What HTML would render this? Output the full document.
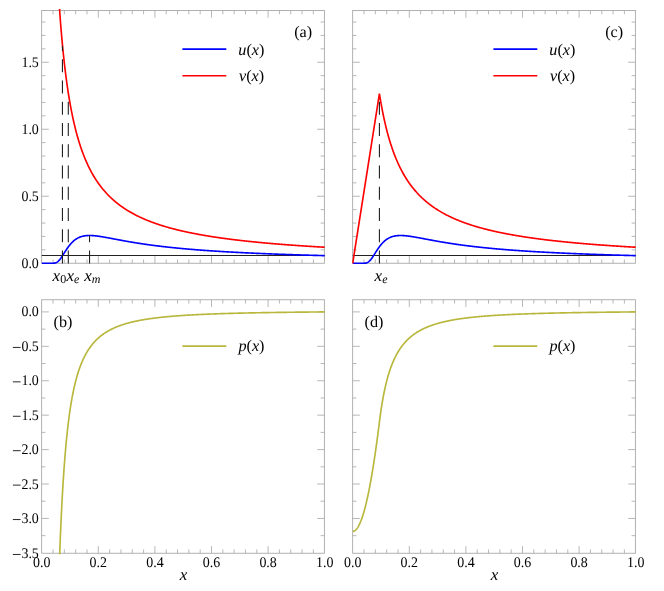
<!DOCTYPE html><html><head><meta charset="utf-8"><style>html,body{margin:0;padding:0;background:#fff}svg{display:block;will-change:transform}</style></head><body><svg width="664" height="591" viewBox="0 0 664 591">
<rect width="664" height="591" fill="#fff"/>
<style>text{font-family:"Liberation Serif", serif;fill:#000;text-rendering:geometricPrecision}.tk{font-size:14.7px}.it{font-size:17px;font-style:italic}.lb{font-size:16.2px}.sub{font-size:12px;font-style:italic}</style>
<clipPath id="ca"><rect x="41.15" y="9.10" width="284.25" height="255.15"/></clipPath>
<clipPath id="cc"><rect x="352.15" y="9.10" width="284.25" height="255.15"/></clipPath>
<clipPath id="cb"><rect x="41.15" y="298.35" width="284.25" height="255.90"/></clipPath>
<clipPath id="cd"><rect x="352.15" y="298.35" width="284.25" height="255.90"/></clipPath>
<path d="M53.02,263.25v-3.80M53.02,10.50v3.80M64.34,263.25v-3.80M64.34,10.50v3.80M75.66,263.25v-3.80M75.66,10.50v3.80M86.98,263.25v-3.80M86.98,10.50v3.80M98.30,263.25v-7.20M98.30,10.50v7.20M109.62,263.25v-3.80M109.62,10.50v3.80M120.94,263.25v-3.80M120.94,10.50v3.80M132.26,263.25v-3.80M132.26,10.50v3.80M143.58,263.25v-3.80M143.58,10.50v3.80M154.90,263.25v-7.20M154.90,10.50v7.20M166.22,263.25v-3.80M166.22,10.50v3.80M177.54,263.25v-3.80M177.54,10.50v3.80M188.86,263.25v-3.80M188.86,10.50v3.80M200.18,263.25v-3.80M200.18,10.50v3.80M211.50,263.25v-7.20M211.50,10.50v7.20M222.82,263.25v-3.80M222.82,10.50v3.80M234.14,263.25v-3.80M234.14,10.50v3.80M245.46,263.25v-3.80M245.46,10.50v3.80M256.78,263.25v-3.80M256.78,10.50v3.80M268.10,263.25v-7.20M268.10,10.50v7.20M279.42,263.25v-3.80M279.42,10.50v3.80M290.74,263.25v-3.80M290.74,10.50v3.80M302.06,263.25v-3.80M302.06,10.50v3.80M313.38,263.25v-3.80M313.38,10.50v3.80M41.65,196.25h7.20M324.40,196.25h-7.20M41.65,129.25h7.20M324.40,129.25h-7.20M41.65,62.25h7.20M324.40,62.25h-7.20M41.65,249.85h3.80M324.40,249.85h-3.80M41.65,236.45h3.80M324.40,236.45h-3.80M41.65,223.05h3.80M324.40,223.05h-3.80M41.65,209.65h3.80M324.40,209.65h-3.80M41.65,182.85h3.80M324.40,182.85h-3.80M41.65,169.45h3.80M324.40,169.45h-3.80M41.65,156.05h3.80M324.40,156.05h-3.80M41.65,142.65h3.80M324.40,142.65h-3.80M41.65,115.85h3.80M324.40,115.85h-3.80M41.65,102.45h3.80M324.40,102.45h-3.80M41.65,89.05h3.80M324.40,89.05h-3.80M41.65,75.65h3.80M324.40,75.65h-3.80M41.65,48.85h3.80M324.40,48.85h-3.80M41.65,35.45h3.80M324.40,35.45h-3.80M41.65,22.05h3.80M324.40,22.05h-3.80" stroke="#999999" stroke-width="0.7" fill="none"/>
<rect x="41.65" y="10.50" width="282.75" height="252.75" fill="none" stroke="#a8a8a8" stroke-width="0.9"/>
<text transform="translate(38.85,268.25) scale(0.95,1)" text-anchor="end" class="tk">0.0</text>
<text transform="translate(38.85,200.75) scale(0.95,1)" text-anchor="end" class="tk">0.5</text>
<text transform="translate(38.85,133.75) scale(0.95,1)" text-anchor="end" class="tk">1.0</text>
<text transform="translate(38.85,66.75) scale(0.95,1)" text-anchor="end" class="tk">1.5</text>
<g clip-path="url(#ca)" fill="none" stroke-linejoin="round">
<path d="M41.65,255.50H324.40" stroke="#222" stroke-width="1"/>
<path d="M41.84,263.25 L42.31,263.25 L42.78,263.25 L43.26,263.25 L43.73,263.25 L44.20,263.25 L44.67,263.25 L45.14,263.25 L45.61,263.25 L46.08,263.25 L46.56,263.25 L47.03,263.25 L47.50,263.25 L47.97,263.25 L48.44,263.25 L48.91,263.25 L49.38,263.25 L49.86,263.25 L50.33,263.25 L50.80,263.25 L51.27,263.25 L51.74,263.25 L52.21,263.24 L52.68,263.23 L53.16,263.22 L53.63,263.19 L54.10,263.15 L54.57,263.08 L55.04,262.98 L55.51,262.86 L55.98,262.69 L56.46,262.47 L56.93,262.21 L57.40,261.91 L57.87,261.55 L58.34,261.14 L58.81,260.68 L59.28,260.17 L59.76,259.62 L60.23,259.03 L60.70,258.41 L61.17,257.75 L61.64,257.07 L62.11,256.36 L62.58,255.64 L63.06,254.91 L63.53,254.16 L64.00,253.42 L64.47,252.67 L64.94,251.92 L65.41,251.18 L65.88,250.45 L66.36,249.73 L66.83,249.02 L67.30,248.33 L67.77,247.66 L68.24,247.00 L68.71,246.36 L69.18,245.74 L69.66,245.14 L70.13,244.56 L70.60,244.01 L71.07,243.47 L71.54,242.96 L72.01,242.47 L72.48,241.99 L72.96,241.54 L73.43,241.12 L73.90,240.71 L74.37,240.32 L74.84,239.95 L75.31,239.60 L75.78,239.27 L76.26,238.96 L76.73,238.66 L77.20,238.39 L77.67,238.13 L78.14,237.88 L78.61,237.65 L79.08,237.44 L79.56,237.24 L80.03,237.05 L80.50,236.88 L80.97,236.72 L81.44,236.57 L81.91,236.43 L82.38,236.31 L82.86,236.20 L83.33,236.09 L83.80,236.00 L84.27,235.91 L84.74,235.84 L85.21,235.77 L85.68,235.72 L86.16,235.67 L86.63,235.62 L87.10,235.59 L87.57,235.56 L88.04,235.54 L88.51,235.52 L88.98,235.51 L89.46,235.51 L89.93,235.51 L90.40,235.52 L90.87,235.53 L91.34,235.55 L91.81,235.57 L92.28,235.59 L92.76,235.62 L93.23,235.66 L93.70,235.69 L94.17,235.73 L94.64,235.78 L95.11,235.82 L95.58,235.87 L96.06,235.93 L96.53,235.98 L97.00,236.04 L97.47,236.10 L97.94,236.16 L98.41,236.22 L98.88,236.29 L99.36,236.36 L99.83,236.43 L100.30,236.50 L100.77,236.57 L101.24,236.64 L101.71,236.72 L102.18,236.80 L102.66,236.87 L103.13,236.95 L103.60,237.03 L104.07,237.11 L104.54,237.19 L105.01,237.28 L105.48,237.36 L105.96,237.44 L106.43,237.53 L106.90,237.62 L107.37,237.70 L107.84,237.79 L108.31,237.87 L108.78,237.96 L109.26,238.05 L109.73,238.14 L110.20,238.22 L110.67,238.31 L111.14,238.40 L111.61,238.49 L112.08,238.58 L112.56,238.67 L113.03,238.76 L113.50,238.85 L113.97,238.94 L114.44,239.02 L114.91,239.11 L115.38,239.20 L115.86,239.29 L116.33,239.38 L116.80,239.47 L117.27,239.56 L117.74,239.65 L118.21,239.74 L118.68,239.82 L119.16,239.91 L119.63,240.00 L120.10,240.09 L120.57,240.17 L121.04,240.26 L121.51,240.35 L121.98,240.43 L122.46,240.52 L122.93,240.61 L123.40,240.69 L123.87,240.78 L124.34,240.86 L124.81,240.95 L125.28,241.03 L125.76,241.12 L126.23,241.20 L126.70,241.28 L127.17,241.37 L127.64,241.45 L128.11,241.53 L128.58,241.61 L129.06,241.70 L129.53,241.78 L130.00,241.86 L130.47,241.94 L130.94,242.02 L131.41,242.10 L131.88,242.18 L132.36,242.26 L132.83,242.34 L133.30,242.41 L133.77,242.49 L134.24,242.57 L134.71,242.65 L135.18,242.72 L135.66,242.80 L136.13,242.87 L136.60,242.95 L137.07,243.02 L137.54,243.10 L138.01,243.17 L138.48,243.25 L138.96,243.32 L139.43,243.39 L139.90,243.47 L140.37,243.54 L140.84,243.61 L141.31,243.68 L141.78,243.75 L142.26,243.82 L142.73,243.89 L143.20,243.96 L143.67,244.03 L144.14,244.10 L144.61,244.17 L145.08,244.24 L145.56,244.31 L146.03,244.38 L146.50,244.44 L146.97,244.51 L147.44,244.58 L147.91,244.64 L148.38,244.71 L148.86,244.77 L149.33,244.84 L149.80,244.90 L150.27,244.97 L150.74,245.03 L151.21,245.09 L151.68,245.16 L152.16,245.22 L152.63,245.28 L153.10,245.34 L153.57,245.41 L154.04,245.47 L154.51,245.53 L154.98,245.59 L155.46,245.65 L155.93,245.71 L156.40,245.77 L156.87,245.83 L157.34,245.89 L157.81,245.94 L158.28,246.00 L158.76,246.06 L159.23,246.12 L159.70,246.17 L160.17,246.23 L160.64,246.29 L161.11,246.34 L161.58,246.40 L162.06,246.46 L162.53,246.51 L163.00,246.57 L163.47,246.62 L163.94,246.67 L164.41,246.73 L164.88,246.78 L165.36,246.84 L165.83,246.89 L166.30,246.94 L166.77,246.99 L167.24,247.05 L167.71,247.10 L168.18,247.15 L168.66,247.20 L169.13,247.25 L169.60,247.30 L170.07,247.35 L170.54,247.40 L171.01,247.45 L171.48,247.50 L171.96,247.55 L172.43,247.60 L172.90,247.65 L173.37,247.70 L173.84,247.75 L174.31,247.79 L174.78,247.84 L175.26,247.89 L175.73,247.94 L176.20,247.98 L176.67,248.03 L177.14,248.08 L177.61,248.12 L178.09,248.17 L178.56,248.21 L179.03,248.26 L179.50,248.30 L179.97,248.35 L180.44,248.39 L180.91,248.44 L181.39,248.48 L181.86,248.53 L182.33,248.57 L182.80,248.61 L183.27,248.66 L183.74,248.70 L184.21,248.74 L184.69,248.78 L185.16,248.83 L185.63,248.87 L186.10,248.91 L186.57,248.95 L187.04,248.99 L187.51,249.03 L187.99,249.08 L188.46,249.12 L188.93,249.16 L189.40,249.20 L189.87,249.24 L190.34,249.28 L190.81,249.32 L191.29,249.36 L191.76,249.40 L192.23,249.43 L192.70,249.47 L193.17,249.51 L193.64,249.55 L194.11,249.59 L194.59,249.63 L195.06,249.66 L195.53,249.70 L196.00,249.74 L196.47,249.78 L196.94,249.81 L197.41,249.85 L197.89,249.89 L198.36,249.92 L198.83,249.96 L199.30,250.00 L199.77,250.03 L200.24,250.07 L200.71,250.10 L201.19,250.14 L201.66,250.17 L202.13,250.21 L202.60,250.24 L203.07,250.28 L203.54,250.31 L204.01,250.35 L204.49,250.38 L204.96,250.41 L205.43,250.45 L205.90,250.48 L206.37,250.52 L206.84,250.55 L207.31,250.58 L207.79,250.61 L208.26,250.65 L208.73,250.68 L209.20,250.71 L209.67,250.75 L210.14,250.78 L210.61,250.81 L211.09,250.84 L211.56,250.87 L212.03,250.90 L212.50,250.94 L212.97,250.97 L213.44,251.00 L213.91,251.03 L214.39,251.06 L214.86,251.09 L215.33,251.12 L215.80,251.15 L216.27,251.18 L216.74,251.21 L217.21,251.24 L217.69,251.27 L218.16,251.30 L218.63,251.33 L219.10,251.36 L219.57,251.39 L220.04,251.42 L220.51,251.45 L220.99,251.48 L221.46,251.50 L221.93,251.53 L222.40,251.56 L222.87,251.59 L223.34,251.62 L223.81,251.65 L224.29,251.67 L224.76,251.70 L225.23,251.73 L225.70,251.76 L226.17,251.78 L226.64,251.81 L227.11,251.84 L227.59,251.87 L228.06,251.89 L228.53,251.92 L229.00,251.95 L229.47,251.97 L229.94,252.00 L230.41,252.03 L230.89,252.05 L231.36,252.08 L231.83,252.10 L232.30,252.13 L232.77,252.16 L233.24,252.18 L233.71,252.21 L234.19,252.23 L234.66,252.26 L235.13,252.28 L235.60,252.31 L236.07,252.33 L236.54,252.36 L237.01,252.38 L237.49,252.41 L237.96,252.43 L238.43,252.46 L238.90,252.48 L239.37,252.50 L239.84,252.53 L240.31,252.55 L240.79,252.58 L241.26,252.60 L241.73,252.62 L242.20,252.65 L242.67,252.67 L243.14,252.69 L243.61,252.72 L244.09,252.74 L244.56,252.76 L245.03,252.79 L245.50,252.81 L245.97,252.83 L246.44,252.85 L246.91,252.88 L247.39,252.90 L247.86,252.92 L248.33,252.94 L248.80,252.97 L249.27,252.99 L249.74,253.01 L250.21,253.03 L250.69,253.05 L251.16,253.08 L251.63,253.10 L252.10,253.12 L252.57,253.14 L253.04,253.16 L253.51,253.18 L253.99,253.20 L254.46,253.23 L254.93,253.25 L255.40,253.27 L255.87,253.29 L256.34,253.31 L256.81,253.33 L257.29,253.35 L257.76,253.37 L258.23,253.39 L258.70,253.41 L259.17,253.43 L259.64,253.45 L260.11,253.47 L260.59,253.49 L261.06,253.51 L261.53,253.53 L262.00,253.55 L262.47,253.57 L262.94,253.59 L263.41,253.61 L263.89,253.63 L264.36,253.65 L264.83,253.67 L265.30,253.69 L265.77,253.71 L266.24,253.73 L266.71,253.75 L267.19,253.77 L267.66,253.78 L268.13,253.80 L268.60,253.82 L269.07,253.84 L269.54,253.86 L270.01,253.88 L270.49,253.90 L270.96,253.91 L271.43,253.93 L271.90,253.95 L272.37,253.97 L272.84,253.99 L273.31,254.01 L273.79,254.02 L274.26,254.04 L274.73,254.06 L275.20,254.08 L275.67,254.09 L276.14,254.11 L276.61,254.13 L277.09,254.15 L277.56,254.16 L278.03,254.18 L278.50,254.20 L278.97,254.22 L279.44,254.23 L279.91,254.25 L280.39,254.27 L280.86,254.29 L281.33,254.30 L281.80,254.32 L282.27,254.34 L282.74,254.35 L283.21,254.37 L283.69,254.39 L284.16,254.40 L284.63,254.42 L285.10,254.44 L285.57,254.45 L286.04,254.47 L286.51,254.48 L286.99,254.50 L287.46,254.52 L287.93,254.53 L288.40,254.55 L288.87,254.56 L289.34,254.58 L289.81,254.60 L290.29,254.61 L290.76,254.63 L291.23,254.64 L291.70,254.66 L292.17,254.67 L292.64,254.69 L293.11,254.71 L293.59,254.72 L294.06,254.74 L294.53,254.75 L295.00,254.77 L295.47,254.78 L295.94,254.80 L296.41,254.81 L296.89,254.83 L297.36,254.84 L297.83,254.86 L298.30,254.87 L298.77,254.89 L299.24,254.90 L299.71,254.92 L300.19,254.93 L300.66,254.95 L301.13,254.96 L301.60,254.98 L302.07,254.99 L302.54,255.00 L303.01,255.02 L303.49,255.03 L303.96,255.05 L304.43,255.06 L304.90,255.08 L305.37,255.09 L305.84,255.10 L306.31,255.12 L306.79,255.13 L307.26,255.15 L307.73,255.16 L308.20,255.17 L308.67,255.19 L309.14,255.20 L309.61,255.21 L310.09,255.23 L310.56,255.24 L311.03,255.26 L311.50,255.27 L311.97,255.28 L312.44,255.30 L312.91,255.31 L313.39,255.32 L313.86,255.34 L314.33,255.35 L314.80,255.36 L315.27,255.38 L315.74,255.39 L316.21,255.40 L316.69,255.42 L317.16,255.43 L317.63,255.44 L318.10,255.45 L318.57,255.47 L319.04,255.48 L319.51,255.49 L319.99,255.51 L320.46,255.52 L320.93,255.53 L321.40,255.54 L321.87,255.56 L322.34,255.57 L322.81,255.58 L323.29,255.59 L323.76,255.61 L324.23,255.62 L324.70,255.63" stroke="#0000ff" stroke-width="1.65"/>
<path d="M55.85,-57.01 L56.30,-47.18 L56.75,-37.93 L57.19,-29.22 L57.64,-21.00 L58.09,-13.23 L58.54,-5.88 L58.99,1.10 L59.43,7.72 L59.88,14.02 L60.33,20.01 L60.78,25.73 L61.23,31.18 L61.68,36.38 L62.12,41.36 L62.57,46.12 L63.02,50.69 L63.47,55.06 L63.92,59.26 L64.36,63.30 L64.81,67.17 L65.26,70.90 L65.71,74.49 L66.16,77.95 L66.60,81.28 L67.05,84.50 L67.50,87.60 L67.95,90.60 L68.40,93.50 L68.84,96.30 L69.29,99.01 L69.74,101.64 L70.19,104.18 L70.64,106.64 L71.08,109.03 L71.53,111.35 L71.98,113.60 L72.43,115.78 L72.88,117.90 L73.33,119.96 L73.77,121.96 L74.22,123.91 L74.67,125.80 L75.12,127.64 L75.57,129.44 L76.01,131.18 L76.46,132.89 L76.91,134.55 L77.36,136.16 L77.81,137.74 L78.25,139.28 L78.70,140.78 L79.15,142.24 L79.60,143.68 L80.05,145.07 L80.49,146.44 L80.94,147.77 L81.39,149.08 L81.84,150.35 L82.29,151.60 L82.74,152.82 L83.18,154.01 L83.63,155.18 L84.08,156.32 L84.53,157.44 L84.98,158.53 L85.42,159.61 L85.87,160.66 L86.32,161.69 L86.77,162.70 L87.22,163.69 L87.66,164.66 L88.11,165.61 L88.56,166.54 L89.01,167.46 L89.46,168.36 L89.90,169.24 L90.35,170.11 L90.80,170.96 L91.25,171.79 L91.70,172.61 L92.14,173.42 L92.59,174.21 L93.04,174.98 L93.49,175.75 L93.94,176.50 L94.39,177.24 L94.83,177.96 L95.28,178.67 L95.73,179.38 L96.18,180.07 L96.63,180.74 L97.07,181.41 L97.52,182.07 L97.97,182.72 L98.42,183.35 L98.87,183.98 L99.31,184.59 L99.76,185.20 L100.21,185.80 L100.66,186.39 L101.11,186.97 L101.55,187.54 L102.00,188.10 L102.45,188.66 L102.90,189.20 L103.35,189.74 L103.79,190.27 L104.24,190.79 L104.69,191.31 L105.14,191.82 L105.59,192.32 L106.04,192.81 L106.48,193.30 L106.93,193.78 L107.38,194.25 L107.83,194.72 L108.28,195.18 L108.72,195.64 L109.17,196.09 L109.62,196.53 L110.07,196.97 L110.52,197.40 L110.96,197.82 L111.41,198.24 L111.86,198.66 L112.31,199.07 L112.76,199.47 L113.20,199.87 L113.65,200.27 L114.10,200.66 L114.55,201.04 L115.00,201.42 L115.45,201.80 L115.89,202.17 L116.34,202.54 L116.79,202.90 L117.24,203.26 L117.69,203.61 L118.13,203.96 L118.58,204.31 L119.03,204.65 L119.48,204.99 L119.93,205.32 L120.37,205.65 L120.82,205.98 L121.27,206.30 L121.72,206.62 L122.17,206.93 L122.61,207.24 L123.06,207.55 L123.51,207.86 L123.96,208.16 L124.41,208.46 L124.85,208.75 L125.30,209.05 L125.75,209.33 L126.20,209.62 L126.65,209.90 L127.10,210.18 L127.54,210.46 L127.99,210.73 L128.44,211.01 L128.89,211.27 L129.34,211.54 L129.78,211.80 L130.23,212.06 L130.68,212.32 L131.13,212.58 L131.58,212.83 L132.02,213.08 L132.47,213.33 L132.92,213.57 L133.37,213.81 L133.82,214.05 L134.26,214.29 L134.71,214.53 L135.16,214.76 L135.61,214.99 L136.06,215.22 L136.50,215.45 L136.95,215.67 L137.40,215.90 L137.85,216.12 L138.30,216.34 L138.75,216.55 L139.19,216.77 L139.64,216.98 L140.09,217.19 L140.54,217.40 L140.99,217.61 L141.43,217.81 L141.88,218.02 L142.33,218.22 L142.78,218.42 L143.23,218.61 L143.67,218.81 L144.12,219.01 L144.57,219.20 L145.02,219.39 L145.47,219.58 L145.91,219.77 L146.36,219.95 L146.81,220.14 L147.26,220.32 L147.71,220.50 L148.16,220.68 L148.60,220.86 L149.05,221.04 L149.50,221.21 L149.95,221.39 L150.40,221.56 L150.84,221.73 L151.29,221.90 L151.74,222.07 L152.19,222.23 L152.64,222.40 L153.08,222.56 L153.53,222.73 L153.98,222.89 L154.43,223.05 L154.88,223.21 L155.32,223.37 L155.77,223.52 L156.22,223.68 L156.67,223.83 L157.12,223.99 L157.56,224.14 L158.01,224.29 L158.46,224.44 L158.91,224.59 L159.36,224.73 L159.81,224.88 L160.25,225.03 L160.70,225.17 L161.15,225.31 L161.60,225.45 L162.05,225.59 L162.49,225.73 L162.94,225.87 L163.39,226.01 L163.84,226.15 L164.29,226.28 L164.73,226.42 L165.18,226.55 L165.63,226.68 L166.08,226.82 L166.53,226.95 L166.97,227.08 L167.42,227.20 L167.87,227.33 L168.32,227.46 L168.77,227.59 L169.22,227.71 L169.66,227.84 L170.11,227.96 L170.56,228.08 L171.01,228.20 L171.46,228.33 L171.90,228.45 L172.35,228.56 L172.80,228.68 L173.25,228.80 L173.70,228.92 L174.14,229.03 L174.59,229.15 L175.04,229.26 L175.49,229.38 L175.94,229.49 L176.38,229.60 L176.83,229.71 L177.28,229.83 L177.73,229.94 L178.18,230.05 L178.62,230.15 L179.07,230.26 L179.52,230.37 L179.97,230.48 L180.42,230.58 L180.87,230.69 L181.31,230.79 L181.76,230.90 L182.21,231.00 L182.66,231.10 L183.11,231.20 L183.55,231.30 L184.00,231.40 L184.45,231.50 L184.90,231.60 L185.35,231.70 L185.79,231.80 L186.24,231.90 L186.69,231.99 L187.14,232.09 L187.59,232.19 L188.03,232.28 L188.48,232.38 L188.93,232.47 L189.38,232.56 L189.83,232.66 L190.28,232.75 L190.72,232.84 L191.17,232.93 L191.62,233.02 L192.07,233.11 L192.52,233.20 L192.96,233.29 L193.41,233.38 L193.86,233.47 L194.31,233.56 L194.76,233.64 L195.20,233.73 L195.65,233.81 L196.10,233.90 L196.55,233.98 L197.00,234.07 L197.44,234.15 L197.89,234.24 L198.34,234.32 L198.79,234.40 L199.24,234.48 L199.68,234.57 L200.13,234.65 L200.58,234.73 L201.03,234.81 L201.48,234.89 L201.93,234.97 L202.37,235.05 L202.82,235.12 L203.27,235.20 L203.72,235.28 L204.17,235.36 L204.61,235.43 L205.06,235.51 L205.51,235.59 L205.96,235.66 L206.41,235.74 L206.85,235.81 L207.30,235.89 L207.75,235.96 L208.20,236.03 L208.65,236.11 L209.09,236.18 L209.54,236.25 L209.99,236.32 L210.44,236.39 L210.89,236.46 L211.33,236.54 L211.78,236.61 L212.23,236.68 L212.68,236.75 L213.13,236.82 L213.58,236.88 L214.02,236.95 L214.47,237.02 L214.92,237.09 L215.37,237.16 L215.82,237.22 L216.26,237.29 L216.71,237.36 L217.16,237.42 L217.61,237.49 L218.06,237.55 L218.50,237.62 L218.95,237.68 L219.40,237.75 L219.85,237.81 L220.30,237.88 L220.74,237.94 L221.19,238.00 L221.64,238.07 L222.09,238.13 L222.54,238.19 L222.99,238.25 L223.43,238.31 L223.88,238.38 L224.33,238.44 L224.78,238.50 L225.23,238.56 L225.67,238.62 L226.12,238.68 L226.57,238.74 L227.02,238.80 L227.47,238.86 L227.91,238.91 L228.36,238.97 L228.81,239.03 L229.26,239.09 L229.71,239.15 L230.15,239.20 L230.60,239.26 L231.05,239.32 L231.50,239.37 L231.95,239.43 L232.39,239.49 L232.84,239.54 L233.29,239.60 L233.74,239.65 L234.19,239.71 L234.64,239.76 L235.08,239.82 L235.53,239.87 L235.98,239.92 L236.43,239.98 L236.88,240.03 L237.32,240.08 L237.77,240.14 L238.22,240.19 L238.67,240.24 L239.12,240.30 L239.56,240.35 L240.01,240.40 L240.46,240.45 L240.91,240.50 L241.36,240.55 L241.80,240.60 L242.25,240.65 L242.70,240.70 L243.15,240.75 L243.60,240.80 L244.05,240.85 L244.49,240.90 L244.94,240.95 L245.39,241.00 L245.84,241.05 L246.29,241.10 L246.73,241.15 L247.18,241.20 L247.63,241.24 L248.08,241.29 L248.53,241.34 L248.97,241.39 L249.42,241.43 L249.87,241.48 L250.32,241.53 L250.77,241.57 L251.21,241.62 L251.66,241.67 L252.11,241.71 L252.56,241.76 L253.01,241.80 L253.45,241.85 L253.90,241.89 L254.35,241.94 L254.80,241.98 L255.25,242.03 L255.70,242.07 L256.14,242.12 L256.59,242.16 L257.04,242.21 L257.49,242.25 L257.94,242.29 L258.38,242.34 L258.83,242.38 L259.28,242.42 L259.73,242.47 L260.18,242.51 L260.62,242.55 L261.07,242.59 L261.52,242.63 L261.97,242.68 L262.42,242.72 L262.86,242.76 L263.31,242.80 L263.76,242.84 L264.21,242.88 L264.66,242.92 L265.10,242.97 L265.55,243.01 L266.00,243.05 L266.45,243.09 L266.90,243.13 L267.35,243.17 L267.79,243.21 L268.24,243.25 L268.69,243.29 L269.14,243.33 L269.59,243.36 L270.03,243.40 L270.48,243.44 L270.93,243.48 L271.38,243.52 L271.83,243.56 L272.27,243.60 L272.72,243.63 L273.17,243.67 L273.62,243.71 L274.07,243.75 L274.51,243.79 L274.96,243.82 L275.41,243.86 L275.86,243.90 L276.31,243.93 L276.76,243.97 L277.20,244.01 L277.65,244.04 L278.10,244.08 L278.55,244.12 L279.00,244.15 L279.44,244.19 L279.89,244.22 L280.34,244.26 L280.79,244.30 L281.24,244.33 L281.68,244.37 L282.13,244.40 L282.58,244.44 L283.03,244.47 L283.48,244.51 L283.92,244.54 L284.37,244.58 L284.82,244.61 L285.27,244.64 L285.72,244.68 L286.16,244.71 L286.61,244.75 L287.06,244.78 L287.51,244.81 L287.96,244.85 L288.41,244.88 L288.85,244.91 L289.30,244.95 L289.75,244.98 L290.20,245.01 L290.65,245.05 L291.09,245.08 L291.54,245.11 L291.99,245.14 L292.44,245.18 L292.89,245.21 L293.33,245.24 L293.78,245.27 L294.23,245.30 L294.68,245.34 L295.13,245.37 L295.57,245.40 L296.02,245.43 L296.47,245.46 L296.92,245.49 L297.37,245.53 L297.81,245.56 L298.26,245.59 L298.71,245.62 L299.16,245.65 L299.61,245.68 L300.06,245.71 L300.50,245.74 L300.95,245.77 L301.40,245.80 L301.85,245.83 L302.30,245.86 L302.74,245.89 L303.19,245.92 L303.64,245.95 L304.09,245.98 L304.54,246.01 L304.98,246.04 L305.43,246.07 L305.88,246.10 L306.33,246.13 L306.78,246.15 L307.22,246.18 L307.67,246.21 L308.12,246.24 L308.57,246.27 L309.02,246.30 L309.47,246.33 L309.91,246.35 L310.36,246.38 L310.81,246.41 L311.26,246.44 L311.71,246.47 L312.15,246.49 L312.60,246.52 L313.05,246.55 L313.50,246.58 L313.95,246.60 L314.39,246.63 L314.84,246.66 L315.29,246.69 L315.74,246.71 L316.19,246.74 L316.63,246.77 L317.08,246.79 L317.53,246.82 L317.98,246.85 L318.43,246.87 L318.87,246.90 L319.32,246.93 L319.77,246.95 L320.22,246.98 L320.67,247.01 L321.12,247.03 L321.56,247.06 L322.01,247.08 L322.46,247.11 L322.91,247.13 L323.36,247.16 L323.80,247.19 L324.25,247.21 L324.70,247.24" stroke="#ff0000" stroke-width="1.65"/>
<path d="M62.44,263.50V46.10" stroke="#222" stroke-width="1.1" stroke-dasharray="13.1 8.15"/>
<path d="M68.30,263.50V94.00" stroke="#222" stroke-width="1.1" stroke-dasharray="13.1 8.15"/>
<path d="M89.53,263.50V235.51" stroke="#222" stroke-width="1.1" stroke-dasharray="13.1 8.15"/>
</g>
<path d="M182.40,49.05H226.30" stroke="#0000ff" stroke-width="1.65"/>
<path d="M182.40,75.7H226.30" stroke="#ff0000" stroke-width="1.65"/>
<text x="238.30" y="54.9" class="lb"><tspan font-style="italic">u</tspan>(<tspan font-style="italic">x</tspan>)</text>
<text x="239.00" y="81.4" class="lb"><tspan font-style="italic">v</tspan>(<tspan font-style="italic">x</tspan>)</text>
<text x="294.20" y="37.2" class="lb">(a)</text>
<path d="M364.02,263.25v-3.80M364.02,10.50v3.80M375.34,263.25v-3.80M375.34,10.50v3.80M386.66,263.25v-3.80M386.66,10.50v3.80M397.98,263.25v-3.80M397.98,10.50v3.80M409.30,263.25v-7.20M409.30,10.50v7.20M420.62,263.25v-3.80M420.62,10.50v3.80M431.94,263.25v-3.80M431.94,10.50v3.80M443.26,263.25v-3.80M443.26,10.50v3.80M454.58,263.25v-3.80M454.58,10.50v3.80M465.90,263.25v-7.20M465.90,10.50v7.20M477.22,263.25v-3.80M477.22,10.50v3.80M488.54,263.25v-3.80M488.54,10.50v3.80M499.86,263.25v-3.80M499.86,10.50v3.80M511.18,263.25v-3.80M511.18,10.50v3.80M522.50,263.25v-7.20M522.50,10.50v7.20M533.82,263.25v-3.80M533.82,10.50v3.80M545.14,263.25v-3.80M545.14,10.50v3.80M556.46,263.25v-3.80M556.46,10.50v3.80M567.78,263.25v-3.80M567.78,10.50v3.80M579.10,263.25v-7.20M579.10,10.50v7.20M590.42,263.25v-3.80M590.42,10.50v3.80M601.74,263.25v-3.80M601.74,10.50v3.80M613.06,263.25v-3.80M613.06,10.50v3.80M624.38,263.25v-3.80M624.38,10.50v3.80M352.65,196.25h7.20M635.40,196.25h-7.20M352.65,129.25h7.20M635.40,129.25h-7.20M352.65,62.25h7.20M635.40,62.25h-7.20M352.65,249.85h3.80M635.40,249.85h-3.80M352.65,236.45h3.80M635.40,236.45h-3.80M352.65,223.05h3.80M635.40,223.05h-3.80M352.65,209.65h3.80M635.40,209.65h-3.80M352.65,182.85h3.80M635.40,182.85h-3.80M352.65,169.45h3.80M635.40,169.45h-3.80M352.65,156.05h3.80M635.40,156.05h-3.80M352.65,142.65h3.80M635.40,142.65h-3.80M352.65,115.85h3.80M635.40,115.85h-3.80M352.65,102.45h3.80M635.40,102.45h-3.80M352.65,89.05h3.80M635.40,89.05h-3.80M352.65,75.65h3.80M635.40,75.65h-3.80M352.65,48.85h3.80M635.40,48.85h-3.80M352.65,35.45h3.80M635.40,35.45h-3.80M352.65,22.05h3.80M635.40,22.05h-3.80" stroke="#999999" stroke-width="0.7" fill="none"/>
<rect x="352.65" y="10.50" width="282.75" height="252.75" fill="none" stroke="#a8a8a8" stroke-width="0.9"/>
<g clip-path="url(#cc)" fill="none" stroke-linejoin="round">
<path d="M352.65,255.50H635.40" stroke="#222" stroke-width="1"/>
<path d="M352.84,263.25 L353.31,263.25 L353.78,263.25 L354.26,263.25 L354.73,263.25 L355.20,263.25 L355.67,263.25 L356.14,263.25 L356.61,263.25 L357.08,263.25 L357.56,263.25 L358.03,263.25 L358.50,263.25 L358.97,263.25 L359.44,263.25 L359.91,263.25 L360.38,263.25 L360.86,263.25 L361.33,263.25 L361.80,263.25 L362.27,263.25 L362.74,263.25 L363.21,263.24 L363.68,263.23 L364.16,263.22 L364.63,263.19 L365.10,263.15 L365.57,263.08 L366.04,262.98 L366.51,262.86 L366.98,262.69 L367.46,262.47 L367.93,262.21 L368.40,261.91 L368.87,261.55 L369.34,261.14 L369.81,260.68 L370.28,260.17 L370.76,259.62 L371.23,259.03 L371.70,258.41 L372.17,257.75 L372.64,257.07 L373.11,256.36 L373.58,255.64 L374.06,254.91 L374.53,254.16 L375.00,253.42 L375.47,252.67 L375.94,251.92 L376.41,251.18 L376.88,250.45 L377.36,249.73 L377.83,249.02 L378.30,248.33 L378.77,247.66 L379.24,247.00 L379.71,246.36 L380.18,245.74 L380.66,245.14 L381.13,244.56 L381.60,244.01 L382.07,243.47 L382.54,242.96 L383.01,242.47 L383.48,241.99 L383.96,241.54 L384.43,241.12 L384.90,240.71 L385.37,240.32 L385.84,239.95 L386.31,239.60 L386.78,239.27 L387.26,238.96 L387.73,238.66 L388.20,238.39 L388.67,238.13 L389.14,237.88 L389.61,237.65 L390.08,237.44 L390.56,237.24 L391.03,237.05 L391.50,236.88 L391.97,236.72 L392.44,236.57 L392.91,236.43 L393.38,236.31 L393.86,236.20 L394.33,236.09 L394.80,236.00 L395.27,235.91 L395.74,235.84 L396.21,235.77 L396.68,235.72 L397.16,235.67 L397.63,235.62 L398.10,235.59 L398.57,235.56 L399.04,235.54 L399.51,235.52 L399.98,235.51 L400.46,235.51 L400.93,235.51 L401.40,235.52 L401.87,235.53 L402.34,235.55 L402.81,235.57 L403.28,235.59 L403.76,235.62 L404.23,235.66 L404.70,235.69 L405.17,235.73 L405.64,235.78 L406.11,235.82 L406.58,235.87 L407.06,235.93 L407.53,235.98 L408.00,236.04 L408.47,236.10 L408.94,236.16 L409.41,236.22 L409.88,236.29 L410.36,236.36 L410.83,236.43 L411.30,236.50 L411.77,236.57 L412.24,236.64 L412.71,236.72 L413.18,236.80 L413.66,236.87 L414.13,236.95 L414.60,237.03 L415.07,237.11 L415.54,237.19 L416.01,237.28 L416.48,237.36 L416.96,237.44 L417.43,237.53 L417.90,237.62 L418.37,237.70 L418.84,237.79 L419.31,237.87 L419.78,237.96 L420.26,238.05 L420.73,238.14 L421.20,238.22 L421.67,238.31 L422.14,238.40 L422.61,238.49 L423.08,238.58 L423.56,238.67 L424.03,238.76 L424.50,238.85 L424.97,238.94 L425.44,239.02 L425.91,239.11 L426.38,239.20 L426.86,239.29 L427.33,239.38 L427.80,239.47 L428.27,239.56 L428.74,239.65 L429.21,239.74 L429.68,239.82 L430.16,239.91 L430.63,240.00 L431.10,240.09 L431.57,240.17 L432.04,240.26 L432.51,240.35 L432.98,240.43 L433.46,240.52 L433.93,240.61 L434.40,240.69 L434.87,240.78 L435.34,240.86 L435.81,240.95 L436.28,241.03 L436.76,241.12 L437.23,241.20 L437.70,241.28 L438.17,241.37 L438.64,241.45 L439.11,241.53 L439.58,241.61 L440.06,241.70 L440.53,241.78 L441.00,241.86 L441.47,241.94 L441.94,242.02 L442.41,242.10 L442.88,242.18 L443.36,242.26 L443.83,242.34 L444.30,242.41 L444.77,242.49 L445.24,242.57 L445.71,242.65 L446.18,242.72 L446.66,242.80 L447.13,242.87 L447.60,242.95 L448.07,243.02 L448.54,243.10 L449.01,243.17 L449.48,243.25 L449.96,243.32 L450.43,243.39 L450.90,243.47 L451.37,243.54 L451.84,243.61 L452.31,243.68 L452.78,243.75 L453.26,243.82 L453.73,243.89 L454.20,243.96 L454.67,244.03 L455.14,244.10 L455.61,244.17 L456.08,244.24 L456.56,244.31 L457.03,244.38 L457.50,244.44 L457.97,244.51 L458.44,244.58 L458.91,244.64 L459.38,244.71 L459.86,244.77 L460.33,244.84 L460.80,244.90 L461.27,244.97 L461.74,245.03 L462.21,245.09 L462.68,245.16 L463.16,245.22 L463.63,245.28 L464.10,245.34 L464.57,245.41 L465.04,245.47 L465.51,245.53 L465.98,245.59 L466.46,245.65 L466.93,245.71 L467.40,245.77 L467.87,245.83 L468.34,245.89 L468.81,245.94 L469.28,246.00 L469.76,246.06 L470.23,246.12 L470.70,246.17 L471.17,246.23 L471.64,246.29 L472.11,246.34 L472.58,246.40 L473.06,246.46 L473.53,246.51 L474.00,246.57 L474.47,246.62 L474.94,246.67 L475.41,246.73 L475.88,246.78 L476.36,246.84 L476.83,246.89 L477.30,246.94 L477.77,246.99 L478.24,247.05 L478.71,247.10 L479.18,247.15 L479.66,247.20 L480.13,247.25 L480.60,247.30 L481.07,247.35 L481.54,247.40 L482.01,247.45 L482.48,247.50 L482.96,247.55 L483.43,247.60 L483.90,247.65 L484.37,247.70 L484.84,247.75 L485.31,247.79 L485.78,247.84 L486.26,247.89 L486.73,247.94 L487.20,247.98 L487.67,248.03 L488.14,248.08 L488.61,248.12 L489.09,248.17 L489.56,248.21 L490.03,248.26 L490.50,248.30 L490.97,248.35 L491.44,248.39 L491.91,248.44 L492.39,248.48 L492.86,248.53 L493.33,248.57 L493.80,248.61 L494.27,248.66 L494.74,248.70 L495.21,248.74 L495.69,248.78 L496.16,248.83 L496.63,248.87 L497.10,248.91 L497.57,248.95 L498.04,248.99 L498.51,249.03 L498.99,249.08 L499.46,249.12 L499.93,249.16 L500.40,249.20 L500.87,249.24 L501.34,249.28 L501.81,249.32 L502.29,249.36 L502.76,249.40 L503.23,249.43 L503.70,249.47 L504.17,249.51 L504.64,249.55 L505.11,249.59 L505.59,249.63 L506.06,249.66 L506.53,249.70 L507.00,249.74 L507.47,249.78 L507.94,249.81 L508.41,249.85 L508.89,249.89 L509.36,249.92 L509.83,249.96 L510.30,250.00 L510.77,250.03 L511.24,250.07 L511.71,250.10 L512.19,250.14 L512.66,250.17 L513.13,250.21 L513.60,250.24 L514.07,250.28 L514.54,250.31 L515.01,250.35 L515.49,250.38 L515.96,250.41 L516.43,250.45 L516.90,250.48 L517.37,250.52 L517.84,250.55 L518.31,250.58 L518.79,250.61 L519.26,250.65 L519.73,250.68 L520.20,250.71 L520.67,250.75 L521.14,250.78 L521.61,250.81 L522.09,250.84 L522.56,250.87 L523.03,250.90 L523.50,250.94 L523.97,250.97 L524.44,251.00 L524.91,251.03 L525.39,251.06 L525.86,251.09 L526.33,251.12 L526.80,251.15 L527.27,251.18 L527.74,251.21 L528.21,251.24 L528.69,251.27 L529.16,251.30 L529.63,251.33 L530.10,251.36 L530.57,251.39 L531.04,251.42 L531.51,251.45 L531.99,251.48 L532.46,251.50 L532.93,251.53 L533.40,251.56 L533.87,251.59 L534.34,251.62 L534.81,251.65 L535.29,251.67 L535.76,251.70 L536.23,251.73 L536.70,251.76 L537.17,251.78 L537.64,251.81 L538.11,251.84 L538.59,251.87 L539.06,251.89 L539.53,251.92 L540.00,251.95 L540.47,251.97 L540.94,252.00 L541.41,252.03 L541.89,252.05 L542.36,252.08 L542.83,252.10 L543.30,252.13 L543.77,252.16 L544.24,252.18 L544.71,252.21 L545.19,252.23 L545.66,252.26 L546.13,252.28 L546.60,252.31 L547.07,252.33 L547.54,252.36 L548.01,252.38 L548.49,252.41 L548.96,252.43 L549.43,252.46 L549.90,252.48 L550.37,252.50 L550.84,252.53 L551.31,252.55 L551.79,252.58 L552.26,252.60 L552.73,252.62 L553.20,252.65 L553.67,252.67 L554.14,252.69 L554.61,252.72 L555.09,252.74 L555.56,252.76 L556.03,252.79 L556.50,252.81 L556.97,252.83 L557.44,252.85 L557.91,252.88 L558.39,252.90 L558.86,252.92 L559.33,252.94 L559.80,252.97 L560.27,252.99 L560.74,253.01 L561.21,253.03 L561.69,253.05 L562.16,253.08 L562.63,253.10 L563.10,253.12 L563.57,253.14 L564.04,253.16 L564.51,253.18 L564.99,253.20 L565.46,253.23 L565.93,253.25 L566.40,253.27 L566.87,253.29 L567.34,253.31 L567.81,253.33 L568.29,253.35 L568.76,253.37 L569.23,253.39 L569.70,253.41 L570.17,253.43 L570.64,253.45 L571.11,253.47 L571.59,253.49 L572.06,253.51 L572.53,253.53 L573.00,253.55 L573.47,253.57 L573.94,253.59 L574.41,253.61 L574.89,253.63 L575.36,253.65 L575.83,253.67 L576.30,253.69 L576.77,253.71 L577.24,253.73 L577.71,253.75 L578.19,253.77 L578.66,253.78 L579.13,253.80 L579.60,253.82 L580.07,253.84 L580.54,253.86 L581.01,253.88 L581.49,253.90 L581.96,253.91 L582.43,253.93 L582.90,253.95 L583.37,253.97 L583.84,253.99 L584.31,254.01 L584.79,254.02 L585.26,254.04 L585.73,254.06 L586.20,254.08 L586.67,254.09 L587.14,254.11 L587.61,254.13 L588.09,254.15 L588.56,254.16 L589.03,254.18 L589.50,254.20 L589.97,254.22 L590.44,254.23 L590.91,254.25 L591.39,254.27 L591.86,254.29 L592.33,254.30 L592.80,254.32 L593.27,254.34 L593.74,254.35 L594.21,254.37 L594.69,254.39 L595.16,254.40 L595.63,254.42 L596.10,254.44 L596.57,254.45 L597.04,254.47 L597.51,254.48 L597.99,254.50 L598.46,254.52 L598.93,254.53 L599.40,254.55 L599.87,254.56 L600.34,254.58 L600.81,254.60 L601.29,254.61 L601.76,254.63 L602.23,254.64 L602.70,254.66 L603.17,254.67 L603.64,254.69 L604.11,254.71 L604.59,254.72 L605.06,254.74 L605.53,254.75 L606.00,254.77 L606.47,254.78 L606.94,254.80 L607.41,254.81 L607.89,254.83 L608.36,254.84 L608.83,254.86 L609.30,254.87 L609.77,254.89 L610.24,254.90 L610.71,254.92 L611.19,254.93 L611.66,254.95 L612.13,254.96 L612.60,254.98 L613.07,254.99 L613.54,255.00 L614.01,255.02 L614.49,255.03 L614.96,255.05 L615.43,255.06 L615.90,255.08 L616.37,255.09 L616.84,255.10 L617.31,255.12 L617.79,255.13 L618.26,255.15 L618.73,255.16 L619.20,255.17 L619.67,255.19 L620.14,255.20 L620.61,255.21 L621.09,255.23 L621.56,255.24 L622.03,255.26 L622.50,255.27 L622.97,255.28 L623.44,255.30 L623.91,255.31 L624.39,255.32 L624.86,255.34 L625.33,255.35 L625.80,255.36 L626.27,255.38 L626.74,255.39 L627.21,255.40 L627.69,255.42 L628.16,255.43 L628.63,255.44 L629.10,255.45 L629.57,255.47 L630.04,255.48 L630.51,255.49 L630.99,255.51 L631.46,255.52 L631.93,255.53 L632.40,255.54 L632.87,255.56 L633.34,255.57 L633.81,255.58 L634.29,255.59 L634.76,255.61 L635.23,255.62 L635.70,255.63" stroke="#0000ff" stroke-width="1.65"/>
<path d="M352.70,263.25 L379.42,93.62 L379.84,96.29 L380.27,98.88 L380.70,101.38 L381.12,103.82 L381.55,106.18 L381.98,108.47 L382.41,110.69 L382.83,112.86 L383.26,114.96 L383.69,117.00 L384.11,118.99 L384.54,120.93 L384.97,122.81 L385.40,124.65 L385.82,126.43 L386.25,128.18 L386.68,129.87 L387.10,131.53 L387.53,133.14 L387.96,134.72 L388.39,136.26 L388.81,137.76 L389.24,139.23 L389.67,140.66 L390.09,142.06 L390.52,143.43 L390.95,144.77 L391.38,146.08 L391.80,147.36 L392.23,148.61 L392.66,149.83 L393.08,151.03 L393.51,152.21 L393.94,153.36 L394.37,154.49 L394.79,155.59 L395.22,156.67 L395.65,157.73 L396.07,158.77 L396.50,159.79 L396.93,160.79 L397.36,161.77 L397.78,162.73 L398.21,163.67 L398.64,164.60 L399.06,165.51 L399.49,166.40 L399.92,167.28 L400.35,168.14 L400.77,168.98 L401.20,169.81 L401.63,170.63 L402.05,171.43 L402.48,172.22 L402.91,172.99 L403.34,173.75 L403.76,174.50 L404.19,175.24 L404.62,175.96 L405.04,176.67 L405.47,177.38 L405.90,178.06 L406.33,178.74 L406.75,179.41 L407.18,180.07 L407.61,180.72 L408.03,181.35 L408.46,181.98 L408.89,182.60 L409.32,183.21 L409.74,183.81 L410.17,184.40 L410.60,184.98 L411.02,185.55 L411.45,186.12 L411.88,186.67 L412.31,187.22 L412.73,187.76 L413.16,188.30 L413.59,188.82 L414.01,189.34 L414.44,189.85 L414.87,190.36 L415.30,190.85 L415.72,191.34 L416.15,191.83 L416.58,192.31 L417.00,192.78 L417.43,193.24 L417.86,193.70 L418.29,194.15 L418.71,194.60 L419.14,195.04 L419.57,195.48 L419.99,195.91 L420.42,196.33 L420.85,196.75 L421.28,197.17 L421.70,197.58 L422.13,197.98 L422.56,198.38 L422.98,198.77 L423.41,199.16 L423.84,199.55 L424.27,199.93 L424.69,200.30 L425.12,200.67 L425.55,201.04 L425.97,201.40 L426.40,201.76 L426.83,202.12 L427.26,202.47 L427.68,202.81 L428.11,203.16 L428.54,203.49 L428.96,203.83 L429.39,204.16 L429.82,204.49 L430.25,204.81 L430.67,205.13 L431.10,205.45 L431.53,205.76 L431.95,206.07 L432.38,206.38 L432.81,206.68 L433.24,206.98 L433.66,207.28 L434.09,207.57 L434.52,207.86 L434.94,208.15 L435.37,208.43 L435.80,208.72 L436.22,208.99 L436.65,209.27 L437.08,209.54 L437.51,209.81 L437.93,210.08 L438.36,210.35 L438.79,210.61 L439.21,210.87 L439.64,211.13 L440.07,211.38 L440.50,211.63 L440.92,211.88 L441.35,212.13 L441.78,212.38 L442.20,212.62 L442.63,212.86 L443.06,213.10 L443.49,213.33 L443.91,213.57 L444.34,213.80 L444.77,214.03 L445.19,214.26 L445.62,214.48 L446.05,214.70 L446.48,214.93 L446.90,215.14 L447.33,215.36 L447.76,215.58 L448.18,215.79 L448.61,216.00 L449.04,216.21 L449.47,216.42 L449.89,216.62 L450.32,216.83 L450.75,217.03 L451.17,217.23 L451.60,217.43 L452.03,217.63 L452.46,217.82 L452.88,218.02 L453.31,218.21 L453.74,218.40 L454.16,218.59 L454.59,218.77 L455.02,218.96 L455.45,219.14 L455.87,219.33 L456.30,219.51 L456.73,219.69 L457.15,219.87 L457.58,220.04 L458.01,220.22 L458.44,220.39 L458.86,220.56 L459.29,220.74 L459.72,220.90 L460.14,221.07 L460.57,221.24 L461.00,221.41 L461.43,221.57 L461.85,221.73 L462.28,221.90 L462.71,222.06 L463.13,222.22 L463.56,222.37 L463.99,222.53 L464.42,222.69 L464.84,222.84 L465.27,222.99 L465.70,223.15 L466.12,223.30 L466.55,223.45 L466.98,223.60 L467.41,223.74 L467.83,223.89 L468.26,224.04 L468.69,224.18 L469.11,224.32 L469.54,224.47 L469.97,224.61 L470.40,224.75 L470.82,224.89 L471.25,225.02 L471.68,225.16 L472.10,225.30 L472.53,225.43 L472.96,225.57 L473.39,225.70 L473.81,225.83 L474.24,225.96 L474.67,226.10 L475.09,226.22 L475.52,226.35 L475.95,226.48 L476.38,226.61 L476.80,226.73 L477.23,226.86 L477.66,226.98 L478.08,227.11 L478.51,227.23 L478.94,227.35 L479.37,227.47 L479.79,227.59 L480.22,227.71 L480.65,227.83 L481.07,227.95 L481.50,228.07 L481.93,228.18 L482.36,228.30 L482.78,228.41 L483.21,228.53 L483.64,228.64 L484.06,228.75 L484.49,228.86 L484.92,228.98 L485.35,229.09 L485.77,229.20 L486.20,229.30 L486.63,229.41 L487.05,229.52 L487.48,229.63 L487.91,229.73 L488.34,229.84 L488.76,229.94 L489.19,230.05 L489.62,230.15 L490.04,230.26 L490.47,230.36 L490.90,230.46 L491.33,230.56 L491.75,230.66 L492.18,230.76 L492.61,230.86 L493.03,230.96 L493.46,231.06 L493.89,231.15 L494.32,231.25 L494.74,231.35 L495.17,231.44 L495.60,231.54 L496.02,231.63 L496.45,231.73 L496.88,231.82 L497.31,231.91 L497.73,232.00 L498.16,232.10 L498.59,232.19 L499.01,232.28 L499.44,232.37 L499.87,232.46 L500.30,232.55 L500.72,232.64 L501.15,232.72 L501.58,232.81 L502.00,232.90 L502.43,232.98 L502.86,233.07 L503.29,233.16 L503.71,233.24 L504.14,233.33 L504.57,233.41 L504.99,233.49 L505.42,233.58 L505.85,233.66 L506.28,233.74 L506.70,233.82 L507.13,233.91 L507.56,233.99 L507.98,234.07 L508.41,234.15 L508.84,234.23 L509.27,234.31 L509.69,234.38 L510.12,234.46 L510.55,234.54 L510.97,234.62 L511.40,234.70 L511.83,234.77 L512.26,234.85 L512.68,234.92 L513.11,235.00 L513.54,235.07 L513.96,235.15 L514.39,235.22 L514.82,235.30 L515.25,235.37 L515.67,235.44 L516.10,235.52 L516.53,235.59 L516.95,235.66 L517.38,235.73 L517.81,235.80 L518.24,235.87 L518.66,235.94 L519.09,236.01 L519.52,236.08 L519.94,236.15 L520.37,236.22 L520.80,236.29 L521.23,236.36 L521.65,236.43 L522.08,236.50 L522.51,236.56 L522.93,236.63 L523.36,236.70 L523.79,236.76 L524.22,236.83 L524.64,236.89 L525.07,236.96 L525.50,237.02 L525.92,237.09 L526.35,237.15 L526.78,237.22 L527.21,237.28 L527.63,237.34 L528.06,237.41 L528.49,237.47 L528.91,237.53 L529.34,237.60 L529.77,237.66 L530.20,237.72 L530.62,237.78 L531.05,237.84 L531.48,237.90 L531.90,237.96 L532.33,238.02 L532.76,238.08 L533.19,238.14 L533.61,238.20 L534.04,238.26 L534.47,238.32 L534.89,238.38 L535.32,238.44 L535.75,238.49 L536.18,238.55 L536.60,238.61 L537.03,238.67 L537.46,238.72 L537.88,238.78 L538.31,238.84 L538.74,238.89 L539.17,238.95 L539.59,239.00 L540.02,239.06 L540.45,239.11 L540.87,239.17 L541.30,239.22 L541.73,239.28 L542.16,239.33 L542.58,239.38 L543.01,239.44 L543.44,239.49 L543.86,239.54 L544.29,239.60 L544.72,239.65 L545.15,239.70 L545.57,239.75 L546.00,239.81 L546.43,239.86 L546.85,239.91 L547.28,239.96 L547.71,240.01 L548.14,240.06 L548.56,240.11 L548.99,240.16 L549.42,240.21 L549.84,240.26 L550.27,240.31 L550.70,240.36 L551.13,240.41 L551.55,240.46 L551.98,240.51 L552.41,240.56 L552.83,240.61 L553.26,240.66 L553.69,240.70 L554.12,240.75 L554.54,240.80 L554.97,240.85 L555.40,240.89 L555.82,240.94 L556.25,240.99 L556.68,241.03 L557.11,241.08 L557.53,241.13 L557.96,241.17 L558.39,241.22 L558.81,241.26 L559.24,241.31 L559.67,241.35 L560.10,241.40 L560.52,241.44 L560.95,241.49 L561.38,241.53 L561.80,241.58 L562.23,241.62 L562.66,241.67 L563.09,241.71 L563.51,241.75 L563.94,241.80 L564.37,241.84 L564.79,241.88 L565.22,241.93 L565.65,241.97 L566.08,242.01 L566.50,242.05 L566.93,242.10 L567.36,242.14 L567.78,242.18 L568.21,242.22 L568.64,242.26 L569.07,242.31 L569.49,242.35 L569.92,242.39 L570.35,242.43 L570.77,242.47 L571.20,242.51 L571.63,242.55 L572.06,242.59 L572.48,242.63 L572.91,242.67 L573.34,242.71 L573.76,242.75 L574.19,242.79 L574.62,242.83 L575.05,242.87 L575.47,242.91 L575.90,242.95 L576.33,242.99 L576.75,243.02 L577.18,243.06 L577.61,243.10 L578.04,243.14 L578.46,243.18 L578.89,243.22 L579.32,243.25 L579.74,243.29 L580.17,243.33 L580.60,243.37 L581.03,243.40 L581.45,243.44 L581.88,243.48 L582.31,243.51 L582.73,243.55 L583.16,243.59 L583.59,243.62 L584.02,243.66 L584.44,243.70 L584.87,243.73 L585.30,243.77 L585.72,243.80 L586.15,243.84 L586.58,243.87 L587.01,243.91 L587.43,243.94 L587.86,243.98 L588.29,244.01 L588.71,244.05 L589.14,244.08 L589.57,244.12 L590.00,244.15 L590.42,244.19 L590.85,244.22 L591.28,244.26 L591.70,244.29 L592.13,244.32 L592.56,244.36 L592.99,244.39 L593.41,244.42 L593.84,244.46 L594.27,244.49 L594.69,244.52 L595.12,244.56 L595.55,244.59 L595.98,244.62 L596.40,244.65 L596.83,244.69 L597.26,244.72 L597.68,244.75 L598.11,244.78 L598.54,244.82 L598.97,244.85 L599.39,244.88 L599.82,244.91 L600.25,244.94 L600.67,244.98 L601.10,245.01 L601.53,245.04 L601.96,245.07 L602.38,245.10 L602.81,245.13 L603.24,245.16 L603.66,245.19 L604.09,245.22 L604.52,245.25 L604.95,245.28 L605.37,245.32 L605.80,245.35 L606.23,245.38 L606.65,245.41 L607.08,245.44 L607.51,245.47 L607.94,245.50 L608.36,245.52 L608.79,245.55 L609.22,245.58 L609.64,245.61 L610.07,245.64 L610.50,245.67 L610.93,245.70 L611.35,245.73 L611.78,245.76 L612.21,245.79 L612.63,245.82 L613.06,245.84 L613.49,245.87 L613.92,245.90 L614.34,245.93 L614.77,245.96 L615.20,245.99 L615.62,246.01 L616.05,246.04 L616.48,246.07 L616.91,246.10 L617.33,246.13 L617.76,246.15 L618.19,246.18 L618.61,246.21 L619.04,246.24 L619.47,246.26 L619.90,246.29 L620.32,246.32 L620.75,246.34 L621.18,246.37 L621.60,246.40 L622.03,246.42 L622.46,246.45 L622.89,246.48 L623.31,246.50 L623.74,246.53 L624.17,246.56 L624.59,246.58 L625.02,246.61 L625.45,246.64 L625.88,246.66 L626.30,246.69 L626.73,246.71 L627.16,246.74 L627.58,246.76 L628.01,246.79 L628.44,246.82 L628.87,246.84 L629.29,246.87 L629.72,246.89 L630.15,246.92 L630.57,246.94 L631.00,246.97 L631.43,246.99 L631.86,247.02 L632.28,247.04 L632.71,247.07 L633.14,247.09 L633.56,247.12 L633.99,247.14 L634.42,247.16 L634.85,247.19 L635.27,247.21 L635.70,247.24" stroke="#ff0000" stroke-width="1.65" stroke-linejoin="miter"/>
<path d="M379.42,263.50V93.62" stroke="#222" stroke-width="1.1" stroke-dasharray="13.1 8.15"/>
</g>
<path d="M493.40,49.05H537.30" stroke="#0000ff" stroke-width="1.65"/>
<path d="M493.40,75.7H537.30" stroke="#ff0000" stroke-width="1.65"/>
<text x="549.30" y="54.9" class="lb"><tspan font-style="italic">u</tspan>(<tspan font-style="italic">x</tspan>)</text>
<text x="550.00" y="81.4" class="lb"><tspan font-style="italic">v</tspan>(<tspan font-style="italic">x</tspan>)</text>
<text x="605.20" y="37.2" class="lb">(c)</text>
<text x="52.60" y="280.75" class="it">x<tspan class="sub" dy="2.6" style="font-style:normal">0</tspan></text>
<text x="66.40" y="280.75" class="it">x<tspan class="sub" dy="2.6" >e</tspan></text>
<text x="84.20" y="280.75" class="it">x<tspan class="sub" dy="2.6" >m</tspan></text>
<text x="374.6" y="280.75" class="it">x<tspan class="sub" dy="2.6">e</tspan></text>
<path d="M53.02,553.25v-3.80M53.02,299.75v3.80M64.34,553.25v-3.80M64.34,299.75v3.80M75.66,553.25v-3.80M75.66,299.75v3.80M86.98,553.25v-3.80M86.98,299.75v3.80M98.30,553.25v-7.20M98.30,299.75v7.20M109.62,553.25v-3.80M109.62,299.75v3.80M120.94,553.25v-3.80M120.94,299.75v3.80M132.26,553.25v-3.80M132.26,299.75v3.80M143.58,553.25v-3.80M143.58,299.75v3.80M154.90,553.25v-7.20M154.90,299.75v7.20M166.22,553.25v-3.80M166.22,299.75v3.80M177.54,553.25v-3.80M177.54,299.75v3.80M188.86,553.25v-3.80M188.86,299.75v3.80M200.18,553.25v-3.80M200.18,299.75v3.80M211.50,553.25v-7.20M211.50,299.75v7.20M222.82,553.25v-3.80M222.82,299.75v3.80M234.14,553.25v-3.80M234.14,299.75v3.80M245.46,553.25v-3.80M245.46,299.75v3.80M256.78,553.25v-3.80M256.78,299.75v3.80M268.10,553.25v-7.20M268.10,299.75v7.20M279.42,553.25v-3.80M279.42,299.75v3.80M290.74,553.25v-3.80M290.74,299.75v3.80M302.06,553.25v-3.80M302.06,299.75v3.80M313.38,553.25v-3.80M313.38,299.75v3.80M41.65,311.90h7.20M324.40,311.90h-7.20M41.65,346.32h7.20M324.40,346.32h-7.20M41.65,380.75h7.20M324.40,380.75h-7.20M41.65,415.17h7.20M324.40,415.17h-7.20M41.65,449.60h7.20M324.40,449.60h-7.20M41.65,484.02h7.20M324.40,484.02h-7.20M41.65,518.45h7.20M324.40,518.45h-7.20M41.65,329.11h3.80M324.40,329.11h-3.80M41.65,363.54h3.80M324.40,363.54h-3.80M41.65,397.96h3.80M324.40,397.96h-3.80M41.65,432.39h3.80M324.40,432.39h-3.80M41.65,466.81h3.80M324.40,466.81h-3.80M41.65,501.24h3.80M324.40,501.24h-3.80M41.65,535.66h3.80M324.40,535.66h-3.80" stroke="#999999" stroke-width="0.7" fill="none"/>
<rect x="41.65" y="299.75" width="282.75" height="253.50" fill="none" stroke="#a8a8a8" stroke-width="0.9"/>
<text transform="translate(38.85,316.40) scale(0.95,1)" text-anchor="end" class="tk">0.0</text>
<text transform="translate(38.85,350.82) scale(0.95,1)" text-anchor="end" class="tk">0.5</text>
<path d="M12.90,347.43h7.7" stroke="#111" stroke-width="0.9"/>
<text transform="translate(38.85,385.25) scale(0.95,1)" text-anchor="end" class="tk">1.0</text>
<path d="M12.90,381.85h7.7" stroke="#111" stroke-width="0.9"/>
<text transform="translate(38.85,419.67) scale(0.95,1)" text-anchor="end" class="tk">1.5</text>
<path d="M12.90,416.27h7.7" stroke="#111" stroke-width="0.9"/>
<text transform="translate(38.85,454.10) scale(0.95,1)" text-anchor="end" class="tk">2.0</text>
<path d="M12.90,450.70h7.7" stroke="#111" stroke-width="0.9"/>
<text transform="translate(38.85,488.52) scale(0.95,1)" text-anchor="end" class="tk">2.5</text>
<path d="M12.90,485.12h7.7" stroke="#111" stroke-width="0.9"/>
<text transform="translate(38.85,522.95) scale(0.95,1)" text-anchor="end" class="tk">3.0</text>
<path d="M12.90,519.55h7.7" stroke="#111" stroke-width="0.9"/>
<text transform="translate(38.85,557.88) scale(0.95,1)" text-anchor="end" class="tk">3.5</text>
<path d="M12.90,554.48h7.7" stroke="#111" stroke-width="0.9"/>
<text transform="translate(41.70,566.95) scale(0.95,1)" text-anchor="middle" class="tk">0.0</text>
<text transform="translate(98.30,566.95) scale(0.95,1)" text-anchor="middle" class="tk">0.2</text>
<text transform="translate(154.90,566.95) scale(0.95,1)" text-anchor="middle" class="tk">0.4</text>
<text transform="translate(211.50,566.95) scale(0.95,1)" text-anchor="middle" class="tk">0.6</text>
<text transform="translate(268.10,566.95) scale(0.95,1)" text-anchor="middle" class="tk">0.8</text>
<text transform="translate(324.70,566.95) scale(0.95,1)" text-anchor="middle" class="tk">1.0</text>
<text x="183.42" y="580.00" text-anchor="middle" class="it">x</text>
<g clip-path="url(#cb)" fill="none" stroke-linejoin="round">
<path d="M57.27,635.72 L57.65,620.34 L58.03,606.02 L58.41,592.68 L58.79,580.22 L59.18,568.58 L59.56,557.67 L59.94,547.45 L60.32,537.85 L60.70,528.83 L61.09,520.34 L61.47,512.34 L61.85,504.80 L62.23,497.68 L62.61,490.95 L63.00,484.59 L63.38,478.56 L63.76,472.85 L64.14,467.43 L64.52,462.29 L64.91,457.40 L65.29,452.76 L65.67,448.34 L66.05,444.13 L66.43,440.12 L66.82,436.29 L67.20,432.64 L67.58,429.16 L67.96,425.83 L68.34,422.64 L68.73,419.59 L69.11,416.68 L69.49,413.88 L69.87,411.20 L70.25,408.63 L70.64,406.16 L71.02,403.79 L71.40,401.51 L71.78,399.32 L72.16,397.22 L72.55,395.19 L72.93,393.24 L73.31,391.36 L73.69,389.54 L74.08,387.79 L74.46,386.11 L74.84,384.48 L75.22,382.90 L75.60,381.38 L75.99,379.91 L76.37,378.49 L76.75,377.11 L77.13,375.78 L77.51,374.49 L77.90,373.24 L78.28,372.03 L78.66,370.85 L79.04,369.72 L79.42,368.61 L79.81,367.54 L80.19,366.50 L80.57,365.48 L80.95,364.50 L81.33,363.54 L81.72,362.61 L82.10,361.71 L82.48,360.83 L82.86,359.98 L83.24,359.14 L83.63,358.33 L84.01,357.54 L84.39,356.77 L84.77,356.02 L85.15,355.29 L85.54,354.57 L85.92,353.88 L86.30,353.20 L86.68,352.54 L87.06,351.89 L87.45,351.26 L87.83,350.64 L88.21,350.04 L88.59,349.45 L88.98,348.88 L89.36,348.31 L89.74,347.77 L90.12,347.23 L90.50,346.70 L90.89,346.19 L91.27,345.69 L91.65,345.19 L92.03,344.71 L92.41,344.24 L92.80,343.78 L93.18,343.33 L93.56,342.89 L93.94,342.45 L94.32,342.03 L94.71,341.61 L95.09,341.21 L95.47,340.81 L95.85,340.41 L96.23,340.03 L96.62,339.65 L97.00,339.28 L97.38,338.92 L97.76,338.57 L98.14,338.22 L98.53,337.88 L98.91,337.54 L99.29,337.21 L99.67,336.89 L100.05,336.57 L100.44,336.26 L100.82,335.95 L101.20,335.65 L101.58,335.36 L101.96,335.07 L102.35,334.78 L102.73,334.50 L103.11,334.23 L103.49,333.96 L103.88,333.69 L104.26,333.43 L104.64,333.17 L105.02,332.92 L105.40,332.67 L105.79,332.43 L106.17,332.19 L106.55,331.95 L106.93,331.72 L107.31,331.49 L107.70,331.26 L108.08,331.04 L108.46,330.83 L108.84,330.61 L109.22,330.40 L109.61,330.19 L109.99,329.99 L110.37,329.79 L110.75,329.59 L111.13,329.39 L111.52,329.20 L111.90,329.01 L112.28,328.83 L112.66,328.64 L113.04,328.46 L113.43,328.29 L113.81,328.11 L114.19,327.94 L114.57,327.77 L114.95,327.60 L115.34,327.44 L115.72,327.27 L116.10,327.11 L116.48,326.95 L116.86,326.80 L117.25,326.64 L117.63,326.49 L118.01,326.34 L118.39,326.20 L118.78,326.05 L119.16,325.91 L119.54,325.77 L119.92,325.63 L120.30,325.49 L120.69,325.35 L121.07,325.22 L121.45,325.09 L121.83,324.96 L122.21,324.83 L122.60,324.70 L122.98,324.58 L123.36,324.46 L123.74,324.33 L124.12,324.21 L124.51,324.09 L124.89,323.98 L125.27,323.86 L125.65,323.75 L126.03,323.64 L126.42,323.52 L126.80,323.41 L127.18,323.31 L127.56,323.20 L127.94,323.09 L128.33,322.99 L128.71,322.89 L129.09,322.79 L129.47,322.68 L129.85,322.59 L130.24,322.49 L130.62,322.39 L131.00,322.30 L131.38,322.20 L131.76,322.11 L132.15,322.02 L132.53,321.92 L132.91,321.83 L133.29,321.75 L133.68,321.66 L134.06,321.57 L134.44,321.48 L134.82,321.40 L135.20,321.32 L135.59,321.23 L135.97,321.15 L136.35,321.07 L136.73,320.99 L137.11,320.91 L137.50,320.83 L137.88,320.76 L138.26,320.68 L138.64,320.60 L139.02,320.53 L139.41,320.45 L139.79,320.38 L140.17,320.31 L140.55,320.24 L140.93,320.17 L141.32,320.10 L141.70,320.03 L142.08,319.96 L142.46,319.89 L142.84,319.83 L143.23,319.76 L143.61,319.69 L143.99,319.63 L144.37,319.56 L144.75,319.50 L145.14,319.44 L145.52,319.38 L145.90,319.32 L146.28,319.25 L146.66,319.19 L147.05,319.13 L147.43,319.08 L147.81,319.02 L148.19,318.96 L148.57,318.90 L148.96,318.85 L149.34,318.79 L149.72,318.73 L150.10,318.68 L150.49,318.63 L150.87,318.57 L151.25,318.52 L151.63,318.47 L152.01,318.41 L152.40,318.36 L152.78,318.31 L153.16,318.26 L153.54,318.21 L153.92,318.16 L154.31,318.11 L154.69,318.06 L155.07,318.02 L155.45,317.97 L155.83,317.92 L156.22,317.87 L156.60,317.83 L156.98,317.78 L157.36,317.74 L157.74,317.69 L158.13,317.65 L158.51,317.60 L158.89,317.56 L159.27,317.52 L159.65,317.47 L160.04,317.43 L160.42,317.39 L160.80,317.35 L161.18,317.30 L161.56,317.26 L161.95,317.22 L162.33,317.18 L162.71,317.14 L163.09,317.10 L163.47,317.06 L163.86,317.03 L164.24,316.99 L164.62,316.95 L165.00,316.91 L165.39,316.87 L165.77,316.84 L166.15,316.80 L166.53,316.76 L166.91,316.73 L167.30,316.69 L167.68,316.66 L168.06,316.62 L168.44,316.59 L168.82,316.55 L169.21,316.52 L169.59,316.48 L169.97,316.45 L170.35,316.42 L170.73,316.38 L171.12,316.35 L171.50,316.32 L171.88,316.29 L172.26,316.25 L172.64,316.22 L173.03,316.19 L173.41,316.16 L173.79,316.13 L174.17,316.10 L174.55,316.07 L174.94,316.04 L175.32,316.01 L175.70,315.98 L176.08,315.95 L176.46,315.92 L176.85,315.89 L177.23,315.86 L177.61,315.83 L177.99,315.81 L178.37,315.78 L178.76,315.75 L179.14,315.72 L179.52,315.70 L179.90,315.67 L180.29,315.64 L180.67,315.62 L181.05,315.59 L181.43,315.56 L181.81,315.54 L182.20,315.51 L182.58,315.49 L182.96,315.46 L183.34,315.44 L183.72,315.41 L184.11,315.39 L184.49,315.36 L184.87,315.34 L185.25,315.31 L185.63,315.29 L186.02,315.26 L186.40,315.24 L186.78,315.22 L187.16,315.19 L187.54,315.17 L187.93,315.15 L188.31,315.13 L188.69,315.10 L189.07,315.08 L189.45,315.06 L189.84,315.04 L190.22,315.01 L190.60,314.99 L190.98,314.97 L191.36,314.95 L191.75,314.93 L192.13,314.91 L192.51,314.89 L192.89,314.87 L193.27,314.84 L193.66,314.82 L194.04,314.80 L194.42,314.78 L194.80,314.76 L195.19,314.74 L195.57,314.72 L195.95,314.70 L196.33,314.68 L196.71,314.67 L197.10,314.65 L197.48,314.63 L197.86,314.61 L198.24,314.59 L198.62,314.57 L199.01,314.55 L199.39,314.53 L199.77,314.52 L200.15,314.50 L200.53,314.48 L200.92,314.46 L201.30,314.44 L201.68,314.43 L202.06,314.41 L202.44,314.39 L202.83,314.37 L203.21,314.36 L203.59,314.34 L203.97,314.32 L204.35,314.31 L204.74,314.29 L205.12,314.27 L205.50,314.26 L205.88,314.24 L206.26,314.22 L206.65,314.21 L207.03,314.19 L207.41,314.18 L207.79,314.16 L208.17,314.15 L208.56,314.13 L208.94,314.11 L209.32,314.10 L209.70,314.08 L210.09,314.07 L210.47,314.05 L210.85,314.04 L211.23,314.02 L211.61,314.01 L212.00,313.99 L212.38,313.98 L212.76,313.97 L213.14,313.95 L213.52,313.94 L213.91,313.92 L214.29,313.91 L214.67,313.89 L215.05,313.88 L215.43,313.87 L215.82,313.85 L216.20,313.84 L216.58,313.83 L216.96,313.81 L217.34,313.80 L217.73,313.79 L218.11,313.77 L218.49,313.76 L218.87,313.75 L219.25,313.73 L219.64,313.72 L220.02,313.71 L220.40,313.69 L220.78,313.68 L221.16,313.67 L221.55,313.66 L221.93,313.64 L222.31,313.63 L222.69,313.62 L223.07,313.61 L223.46,313.60 L223.84,313.58 L224.22,313.57 L224.60,313.56 L224.98,313.55 L225.37,313.54 L225.75,313.52 L226.13,313.51 L226.51,313.50 L226.90,313.49 L227.28,313.48 L227.66,313.47 L228.04,313.46 L228.42,313.45 L228.81,313.43 L229.19,313.42 L229.57,313.41 L229.95,313.40 L230.33,313.39 L230.72,313.38 L231.10,313.37 L231.48,313.36 L231.86,313.35 L232.24,313.34 L232.63,313.33 L233.01,313.32 L233.39,313.31 L233.77,313.30 L234.15,313.29 L234.54,313.28 L234.92,313.27 L235.30,313.26 L235.68,313.25 L236.06,313.24 L236.45,313.23 L236.83,313.22 L237.21,313.21 L237.59,313.20 L237.97,313.19 L238.36,313.18 L238.74,313.17 L239.12,313.16 L239.50,313.15 L239.88,313.14 L240.27,313.13 L240.65,313.12 L241.03,313.11 L241.41,313.10 L241.80,313.09 L242.18,313.08 L242.56,313.08 L242.94,313.07 L243.32,313.06 L243.71,313.05 L244.09,313.04 L244.47,313.03 L244.85,313.02 L245.23,313.01 L245.62,313.01 L246.00,313.00 L246.38,312.99 L246.76,312.98 L247.14,312.97 L247.53,312.96 L247.91,312.95 L248.29,312.95 L248.67,312.94 L249.05,312.93 L249.44,312.92 L249.82,312.91 L250.20,312.91 L250.58,312.90 L250.96,312.89 L251.35,312.88 L251.73,312.87 L252.11,312.87 L252.49,312.86 L252.87,312.85 L253.26,312.84 L253.64,312.84 L254.02,312.83 L254.40,312.82 L254.78,312.81 L255.17,312.81 L255.55,312.80 L255.93,312.79 L256.31,312.78 L256.70,312.78 L257.08,312.77 L257.46,312.76 L257.84,312.75 L258.22,312.75 L258.61,312.74 L258.99,312.73 L259.37,312.73 L259.75,312.72 L260.13,312.71 L260.52,312.70 L260.90,312.70 L261.28,312.69 L261.66,312.68 L262.04,312.68 L262.43,312.67 L262.81,312.66 L263.19,312.66 L263.57,312.65 L263.95,312.64 L264.34,312.64 L264.72,312.63 L265.10,312.62 L265.48,312.62 L265.86,312.61 L266.25,312.60 L266.63,312.60 L267.01,312.59 L267.39,312.58 L267.77,312.58 L268.16,312.57 L268.54,312.57 L268.92,312.56 L269.30,312.55 L269.68,312.55 L270.07,312.54 L270.45,312.53 L270.83,312.53 L271.21,312.52 L271.60,312.52 L271.98,312.51 L272.36,312.50 L272.74,312.50 L273.12,312.49 L273.51,312.49 L273.89,312.48 L274.27,312.48 L274.65,312.47 L275.03,312.46 L275.42,312.46 L275.80,312.45 L276.18,312.45 L276.56,312.44 L276.94,312.44 L277.33,312.43 L277.71,312.42 L278.09,312.42 L278.47,312.41 L278.85,312.41 L279.24,312.40 L279.62,312.40 L280.00,312.39 L280.38,312.39 L280.76,312.38 L281.15,312.38 L281.53,312.37 L281.91,312.36 L282.29,312.36 L282.67,312.35 L283.06,312.35 L283.44,312.34 L283.82,312.34 L284.20,312.33 L284.58,312.33 L284.97,312.32 L285.35,312.32 L285.73,312.31 L286.11,312.31 L286.50,312.30 L286.88,312.30 L287.26,312.29 L287.64,312.29 L288.02,312.28 L288.41,312.28 L288.79,312.27 L289.17,312.27 L289.55,312.26 L289.93,312.26 L290.32,312.25 L290.70,312.25 L291.08,312.24 L291.46,312.24 L291.84,312.24 L292.23,312.23 L292.61,312.23 L292.99,312.22 L293.37,312.22 L293.75,312.21 L294.14,312.21 L294.52,312.20 L294.90,312.20 L295.28,312.19 L295.66,312.19 L296.05,312.19 L296.43,312.18 L296.81,312.18 L297.19,312.17 L297.57,312.17 L297.96,312.16 L298.34,312.16 L298.72,312.15 L299.10,312.15 L299.48,312.15 L299.87,312.14 L300.25,312.14 L300.63,312.13 L301.01,312.13 L301.39,312.12 L301.78,312.12 L302.16,312.12 L302.54,312.11 L302.92,312.11 L303.31,312.10 L303.69,312.10 L304.07,312.10 L304.45,312.09 L304.83,312.09 L305.22,312.08 L305.60,312.08 L305.98,312.08 L306.36,312.07 L306.74,312.07 L307.13,312.06 L307.51,312.06 L307.89,312.06 L308.27,312.05 L308.65,312.05 L309.04,312.04 L309.42,312.04 L309.80,312.04 L310.18,312.03 L310.56,312.03 L310.95,312.03 L311.33,312.02 L311.71,312.02 L312.09,312.01 L312.47,312.01 L312.86,312.01 L313.24,312.00 L313.62,312.00 L314.00,312.00 L314.38,311.99 L314.77,311.99 L315.15,311.99 L315.53,311.98 L315.91,311.98 L316.29,311.97 L316.68,311.97 L317.06,311.97 L317.44,311.96 L317.82,311.96 L318.21,311.96 L318.59,311.95 L318.97,311.95 L319.35,311.95 L319.73,311.94 L320.12,311.94 L320.50,311.94 L320.88,311.93 L321.26,311.93 L321.64,311.93 L322.03,311.92 L322.41,311.92 L322.79,311.92 L323.17,311.91 L323.55,311.91 L323.94,311.91 L324.32,311.90 L324.70,311.90" stroke="#b8b73c" stroke-width="1.65"/>
</g>
<path d="M182.40,346.1H226.30" stroke="#b8b73c" stroke-width="1.65"/>
<text x="238.40" y="351.4" class="lb"><tspan font-style="italic">p</tspan>(<tspan font-style="italic">x</tspan>)</text>
<text x="53.60" y="327.3" class="lb">(b)</text>
<path d="M364.02,553.25v-3.80M364.02,299.75v3.80M375.34,553.25v-3.80M375.34,299.75v3.80M386.66,553.25v-3.80M386.66,299.75v3.80M397.98,553.25v-3.80M397.98,299.75v3.80M409.30,553.25v-7.20M409.30,299.75v7.20M420.62,553.25v-3.80M420.62,299.75v3.80M431.94,553.25v-3.80M431.94,299.75v3.80M443.26,553.25v-3.80M443.26,299.75v3.80M454.58,553.25v-3.80M454.58,299.75v3.80M465.90,553.25v-7.20M465.90,299.75v7.20M477.22,553.25v-3.80M477.22,299.75v3.80M488.54,553.25v-3.80M488.54,299.75v3.80M499.86,553.25v-3.80M499.86,299.75v3.80M511.18,553.25v-3.80M511.18,299.75v3.80M522.50,553.25v-7.20M522.50,299.75v7.20M533.82,553.25v-3.80M533.82,299.75v3.80M545.14,553.25v-3.80M545.14,299.75v3.80M556.46,553.25v-3.80M556.46,299.75v3.80M567.78,553.25v-3.80M567.78,299.75v3.80M579.10,553.25v-7.20M579.10,299.75v7.20M590.42,553.25v-3.80M590.42,299.75v3.80M601.74,553.25v-3.80M601.74,299.75v3.80M613.06,553.25v-3.80M613.06,299.75v3.80M624.38,553.25v-3.80M624.38,299.75v3.80M352.65,311.90h7.20M635.40,311.90h-7.20M352.65,346.32h7.20M635.40,346.32h-7.20M352.65,380.75h7.20M635.40,380.75h-7.20M352.65,415.17h7.20M635.40,415.17h-7.20M352.65,449.60h7.20M635.40,449.60h-7.20M352.65,484.02h7.20M635.40,484.02h-7.20M352.65,518.45h7.20M635.40,518.45h-7.20M352.65,329.11h3.80M635.40,329.11h-3.80M352.65,363.54h3.80M635.40,363.54h-3.80M352.65,397.96h3.80M635.40,397.96h-3.80M352.65,432.39h3.80M635.40,432.39h-3.80M352.65,466.81h3.80M635.40,466.81h-3.80M352.65,501.24h3.80M635.40,501.24h-3.80M352.65,535.66h3.80M635.40,535.66h-3.80" stroke="#999999" stroke-width="0.7" fill="none"/>
<rect x="352.65" y="299.75" width="282.75" height="253.50" fill="none" stroke="#a8a8a8" stroke-width="0.9"/>
<text transform="translate(352.70,566.95) scale(0.95,1)" text-anchor="middle" class="tk">0.0</text>
<text transform="translate(409.30,566.95) scale(0.95,1)" text-anchor="middle" class="tk">0.2</text>
<text transform="translate(465.90,566.95) scale(0.95,1)" text-anchor="middle" class="tk">0.4</text>
<text transform="translate(522.50,566.95) scale(0.95,1)" text-anchor="middle" class="tk">0.6</text>
<text transform="translate(579.10,566.95) scale(0.95,1)" text-anchor="middle" class="tk">0.8</text>
<text transform="translate(635.70,566.95) scale(0.95,1)" text-anchor="middle" class="tk">1.0</text>
<text x="494.42" y="580.00" text-anchor="middle" class="it">x</text>
<g clip-path="url(#cd)" fill="none" stroke-linejoin="round">
<path d="M352.70,531.36 L353.10,531.33 L353.51,531.25 L353.91,531.13 L354.32,530.95 L354.72,530.72 L355.13,530.45 L355.53,530.12 L355.93,529.74 L356.34,529.31 L356.74,528.83 L357.15,528.30 L357.55,527.72 L357.96,527.09 L358.36,526.40 L358.76,525.67 L359.17,524.89 L359.57,524.05 L359.98,523.17 L360.38,522.23 L360.79,521.25 L361.19,520.21 L361.59,519.13 L362.00,517.99 L362.40,516.80 L362.81,515.56 L363.21,514.27 L363.62,512.94 L364.02,511.55 L364.42,510.11 L364.83,508.61 L365.23,507.07 L365.64,505.48 L366.04,503.84 L366.45,502.15 L366.85,500.40 L367.25,498.61 L367.66,496.77 L368.06,494.87 L368.47,492.93 L368.87,490.94 L369.28,488.90 L369.68,486.81 L370.08,484.67 L370.49,482.48 L370.89,480.24 L371.30,477.96 L371.70,475.63 L372.11,473.25 L372.51,470.83 L372.91,468.35 L373.32,465.83 L373.72,463.27 L374.13,460.65 L374.53,457.99 L374.94,455.29 L375.34,452.53 L375.74,449.73 L376.15,446.88 L376.55,443.98 L376.96,441.03 L377.36,438.04 L377.77,434.99 L378.17,431.90 L378.57,428.76 L378.98,425.57 L379.38,422.33 L379.79,419.12 L380.19,416.06 L380.60,413.13 L381.00,410.33 L381.40,407.65 L381.81,405.08 L382.21,402.62 L382.62,400.26 L383.02,398.00 L383.43,395.83 L383.83,393.74 L384.23,391.73 L384.64,389.80 L385.04,387.94 L385.45,386.15 L385.85,384.43 L386.26,382.76 L386.66,381.16 L387.06,379.61 L387.47,378.12 L387.87,376.68 L388.28,375.28 L388.68,373.94 L389.09,372.63 L389.49,371.37 L389.89,370.15 L390.30,368.97 L390.70,367.82 L391.11,366.71 L391.51,365.64 L391.92,364.59 L392.32,363.58 L392.72,362.60 L393.13,361.64 L393.53,360.71 L393.94,359.81 L394.34,358.93 L394.75,358.08 L395.15,357.25 L395.55,356.45 L395.96,355.66 L396.36,354.90 L396.77,354.15 L397.17,353.43 L397.58,352.72 L397.98,352.03 L398.38,351.36 L398.79,350.71 L399.19,350.07 L399.60,349.45 L400.00,348.84 L400.41,348.24 L400.81,347.67 L401.21,347.10 L401.62,346.55 L402.02,346.01 L402.43,345.48 L402.83,344.96 L403.24,344.46 L403.64,343.97 L404.04,343.49 L404.45,343.01 L404.85,342.55 L405.26,342.10 L405.66,341.66 L406.07,341.23 L406.47,340.81 L406.87,340.39 L407.28,339.99 L407.68,339.59 L408.09,339.20 L408.49,338.82 L408.90,338.44 L409.30,338.08 L409.70,337.72 L410.11,337.37 L410.51,337.02 L410.92,336.68 L411.32,336.35 L411.73,336.03 L412.13,335.71 L412.53,335.39 L412.94,335.09 L413.34,334.78 L413.75,334.49 L414.15,334.20 L414.56,333.91 L414.96,333.63 L415.36,333.36 L415.77,333.09 L416.17,332.82 L416.58,332.56 L416.98,332.30 L417.39,332.05 L417.79,331.80 L418.19,331.56 L418.60,331.32 L419.00,331.09 L419.41,330.86 L419.81,330.63 L420.22,330.41 L420.62,330.19 L421.02,329.97 L421.43,329.76 L421.83,329.55 L422.24,329.34 L422.64,329.14 L423.05,328.94 L423.45,328.75 L423.85,328.55 L424.26,328.36 L424.66,328.18 L425.07,327.99 L425.47,327.81 L425.88,327.63 L426.28,327.46 L426.68,327.29 L427.09,327.12 L427.49,326.95 L427.90,326.78 L428.30,326.62 L428.71,326.46 L429.11,326.30 L429.51,326.15 L429.92,326.00 L430.32,325.85 L430.73,325.70 L431.13,325.55 L431.54,325.41 L431.94,325.26 L432.34,325.12 L432.75,324.99 L433.15,324.85 L433.56,324.72 L433.96,324.58 L434.37,324.45 L434.77,324.32 L435.17,324.20 L435.58,324.07 L435.98,323.95 L436.39,323.83 L436.79,323.71 L437.20,323.59 L437.60,323.47 L438.00,323.36 L438.41,323.24 L438.81,323.13 L439.22,323.02 L439.62,322.91 L440.03,322.80 L440.43,322.70 L440.83,322.59 L441.24,322.49 L441.64,322.38 L442.05,322.28 L442.45,322.18 L442.86,322.09 L443.26,321.99 L443.66,321.89 L444.07,321.80 L444.47,321.70 L444.88,321.61 L445.28,321.52 L445.69,321.43 L446.09,321.34 L446.49,321.25 L446.90,321.17 L447.30,321.08 L447.71,321.00 L448.11,320.91 L448.52,320.83 L448.92,320.75 L449.32,320.67 L449.73,320.59 L450.13,320.51 L450.54,320.43 L450.94,320.35 L451.35,320.28 L451.75,320.20 L452.15,320.13 L452.56,320.05 L452.96,319.98 L453.37,319.91 L453.77,319.84 L454.18,319.77 L454.58,319.70 L454.98,319.63 L455.39,319.56 L455.79,319.50 L456.20,319.43 L456.60,319.36 L457.01,319.30 L457.41,319.23 L457.81,319.17 L458.22,319.11 L458.62,319.05 L459.03,318.98 L459.43,318.92 L459.84,318.86 L460.24,318.80 L460.64,318.75 L461.05,318.69 L461.45,318.63 L461.86,318.57 L462.26,318.52 L462.67,318.46 L463.07,318.41 L463.47,318.35 L463.88,318.30 L464.28,318.24 L464.69,318.19 L465.09,318.14 L465.50,318.09 L465.90,318.04 L466.30,317.99 L466.71,317.94 L467.11,317.89 L467.52,317.84 L467.92,317.79 L468.33,317.74 L468.73,317.69 L469.13,317.65 L469.54,317.60 L469.94,317.55 L470.35,317.51 L470.75,317.46 L471.16,317.42 L471.56,317.37 L471.96,317.33 L472.37,317.28 L472.77,317.24 L473.18,317.20 L473.58,317.16 L473.99,317.11 L474.39,317.07 L474.79,317.03 L475.20,316.99 L475.60,316.95 L476.01,316.91 L476.41,316.87 L476.82,316.83 L477.22,316.79 L477.62,316.76 L478.03,316.72 L478.43,316.68 L478.84,316.64 L479.24,316.60 L479.65,316.57 L480.05,316.53 L480.45,316.50 L480.86,316.46 L481.26,316.42 L481.67,316.39 L482.07,316.36 L482.48,316.32 L482.88,316.29 L483.28,316.25 L483.69,316.22 L484.09,316.19 L484.50,316.15 L484.90,316.12 L485.31,316.09 L485.71,316.06 L486.11,316.02 L486.52,315.99 L486.92,315.96 L487.33,315.93 L487.73,315.90 L488.14,315.87 L488.54,315.84 L488.94,315.81 L489.35,315.78 L489.75,315.75 L490.16,315.72 L490.56,315.69 L490.97,315.66 L491.37,315.64 L491.77,315.61 L492.18,315.58 L492.58,315.55 L492.99,315.53 L493.39,315.50 L493.80,315.47 L494.20,315.44 L494.60,315.42 L495.01,315.39 L495.41,315.37 L495.82,315.34 L496.22,315.31 L496.63,315.29 L497.03,315.26 L497.43,315.24 L497.84,315.21 L498.24,315.19 L498.65,315.16 L499.05,315.14 L499.46,315.12 L499.86,315.09 L500.26,315.07 L500.67,315.05 L501.07,315.02 L501.48,315.00 L501.88,314.98 L502.29,314.95 L502.69,314.93 L503.09,314.91 L503.50,314.89 L503.90,314.86 L504.31,314.84 L504.71,314.82 L505.12,314.80 L505.52,314.78 L505.92,314.76 L506.33,314.74 L506.73,314.72 L507.14,314.69 L507.54,314.67 L507.95,314.65 L508.35,314.63 L508.75,314.61 L509.16,314.59 L509.56,314.57 L509.97,314.55 L510.37,314.53 L510.78,314.52 L511.18,314.50 L511.58,314.48 L511.99,314.46 L512.39,314.44 L512.80,314.42 L513.20,314.40 L513.61,314.38 L514.01,314.37 L514.41,314.35 L514.82,314.33 L515.22,314.31 L515.63,314.29 L516.03,314.28 L516.44,314.26 L516.84,314.24 L517.24,314.23 L517.65,314.21 L518.05,314.19 L518.46,314.17 L518.86,314.16 L519.27,314.14 L519.67,314.12 L520.07,314.11 L520.48,314.09 L520.88,314.08 L521.29,314.06 L521.69,314.04 L522.10,314.03 L522.50,314.01 L522.90,314.00 L523.31,313.98 L523.71,313.97 L524.12,313.95 L524.52,313.94 L524.93,313.92 L525.33,313.91 L525.73,313.89 L526.14,313.88 L526.54,313.86 L526.95,313.85 L527.35,313.83 L527.76,313.82 L528.16,313.81 L528.56,313.79 L528.97,313.78 L529.37,313.76 L529.78,313.75 L530.18,313.74 L530.59,313.72 L530.99,313.71 L531.39,313.69 L531.80,313.68 L532.20,313.67 L532.61,313.66 L533.01,313.64 L533.42,313.63 L533.82,313.62 L534.22,313.60 L534.63,313.59 L535.03,313.58 L535.44,313.57 L535.84,313.55 L536.25,313.54 L536.65,313.53 L537.05,313.52 L537.46,313.50 L537.86,313.49 L538.27,313.48 L538.67,313.47 L539.08,313.46 L539.48,313.44 L539.88,313.43 L540.29,313.42 L540.69,313.41 L541.10,313.40 L541.50,313.39 L541.91,313.37 L542.31,313.36 L542.71,313.35 L543.12,313.34 L543.52,313.33 L543.93,313.32 L544.33,313.31 L544.74,313.30 L545.14,313.29 L545.54,313.28 L545.95,313.26 L546.35,313.25 L546.76,313.24 L547.16,313.23 L547.57,313.22 L547.97,313.21 L548.37,313.20 L548.78,313.19 L549.18,313.18 L549.59,313.17 L549.99,313.16 L550.40,313.15 L550.80,313.14 L551.20,313.13 L551.61,313.12 L552.01,313.11 L552.42,313.10 L552.82,313.09 L553.23,313.08 L553.63,313.07 L554.03,313.06 L554.44,313.06 L554.84,313.05 L555.25,313.04 L555.65,313.03 L556.06,313.02 L556.46,313.01 L556.86,313.00 L557.27,312.99 L557.67,312.98 L558.08,312.97 L558.48,312.96 L558.89,312.96 L559.29,312.95 L559.69,312.94 L560.10,312.93 L560.50,312.92 L560.91,312.91 L561.31,312.90 L561.72,312.90 L562.12,312.89 L562.52,312.88 L562.93,312.87 L563.33,312.86 L563.74,312.85 L564.14,312.85 L564.55,312.84 L564.95,312.83 L565.35,312.82 L565.76,312.81 L566.16,312.81 L566.57,312.80 L566.97,312.79 L567.38,312.78 L567.78,312.77 L568.18,312.77 L568.59,312.76 L568.99,312.75 L569.40,312.74 L569.80,312.74 L570.21,312.73 L570.61,312.72 L571.01,312.71 L571.42,312.71 L571.82,312.70 L572.23,312.69 L572.63,312.68 L573.04,312.68 L573.44,312.67 L573.84,312.66 L574.25,312.66 L574.65,312.65 L575.06,312.64 L575.46,312.63 L575.87,312.63 L576.27,312.62 L576.67,312.61 L577.08,312.61 L577.48,312.60 L577.89,312.59 L578.29,312.59 L578.70,312.58 L579.10,312.57 L579.50,312.57 L579.91,312.56 L580.31,312.55 L580.72,312.55 L581.12,312.54 L581.53,312.53 L581.93,312.53 L582.33,312.52 L582.74,312.51 L583.14,312.51 L583.55,312.50 L583.95,312.50 L584.36,312.49 L584.76,312.48 L585.16,312.48 L585.57,312.47 L585.97,312.46 L586.38,312.46 L586.78,312.45 L587.19,312.45 L587.59,312.44 L587.99,312.43 L588.40,312.43 L588.80,312.42 L589.21,312.42 L589.61,312.41 L590.02,312.41 L590.42,312.40 L590.82,312.39 L591.23,312.39 L591.63,312.38 L592.04,312.38 L592.44,312.37 L592.85,312.37 L593.25,312.36 L593.65,312.35 L594.06,312.35 L594.46,312.34 L594.87,312.34 L595.27,312.33 L595.68,312.33 L596.08,312.32 L596.48,312.32 L596.89,312.31 L597.29,312.31 L597.70,312.30 L598.10,312.30 L598.51,312.29 L598.91,312.28 L599.31,312.28 L599.72,312.27 L600.12,312.27 L600.53,312.26 L600.93,312.26 L601.34,312.25 L601.74,312.25 L602.14,312.24 L602.55,312.24 L602.95,312.23 L603.36,312.23 L603.76,312.22 L604.17,312.22 L604.57,312.21 L604.97,312.21 L605.38,312.20 L605.78,312.20 L606.19,312.20 L606.59,312.19 L607.00,312.19 L607.40,312.18 L607.80,312.18 L608.21,312.17 L608.61,312.17 L609.02,312.16 L609.42,312.16 L609.83,312.15 L610.23,312.15 L610.63,312.14 L611.04,312.14 L611.44,312.14 L611.85,312.13 L612.25,312.13 L612.66,312.12 L613.06,312.12 L613.46,312.11 L613.87,312.11 L614.27,312.10 L614.68,312.10 L615.08,312.10 L615.49,312.09 L615.89,312.09 L616.29,312.08 L616.70,312.08 L617.10,312.07 L617.51,312.07 L617.91,312.07 L618.32,312.06 L618.72,312.06 L619.12,312.05 L619.53,312.05 L619.93,312.05 L620.34,312.04 L620.74,312.04 L621.15,312.03 L621.55,312.03 L621.95,312.03 L622.36,312.02 L622.76,312.02 L623.17,312.01 L623.57,312.01 L623.98,312.01 L624.38,312.00 L624.78,312.00 L625.19,311.99 L625.59,311.99 L626.00,311.99 L626.40,311.98 L626.81,311.98 L627.21,311.98 L627.61,311.97 L628.02,311.97 L628.42,311.96 L628.83,311.96 L629.23,311.96 L629.64,311.95 L630.04,311.95 L630.44,311.95 L630.85,311.94 L631.25,311.94 L631.66,311.94 L632.06,311.93 L632.47,311.93 L632.87,311.92 L633.27,311.92 L633.68,311.92 L634.08,311.91 L634.49,311.91 L634.89,311.91 L635.30,311.90 L635.70,311.90" stroke="#b8b73c" stroke-width="1.65"/>
</g>
<path d="M493.40,346.1H537.30" stroke="#b8b73c" stroke-width="1.65"/>
<text x="549.40" y="351.4" class="lb"><tspan font-style="italic">p</tspan>(<tspan font-style="italic">x</tspan>)</text>
<text x="364.60" y="327.3" class="lb">(d)</text>
</svg></body></html>
